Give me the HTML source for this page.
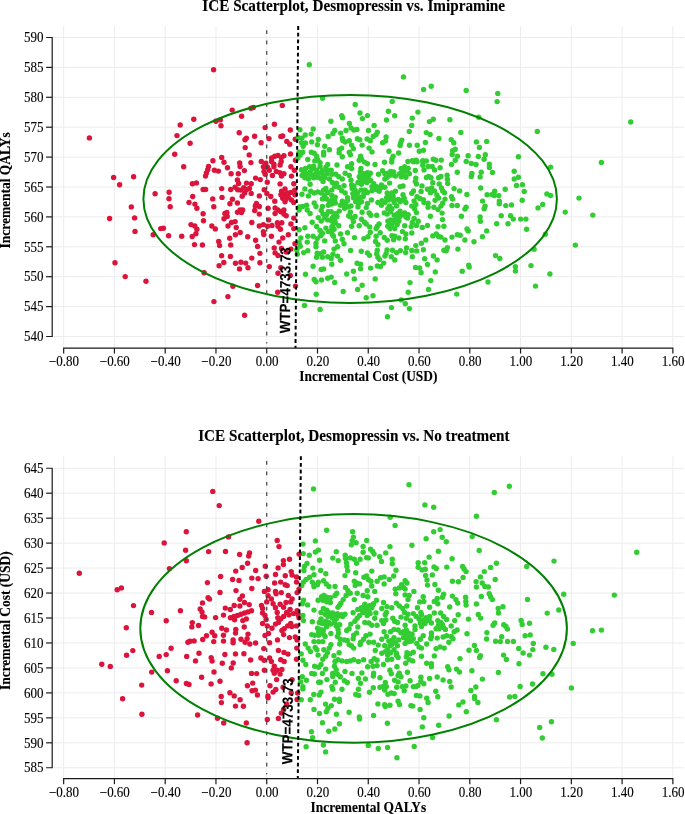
<!DOCTYPE html><html><head><meta charset="utf-8"><style>html,body{margin:0;padding:0;background:#fff}svg{display:block;will-change:transform}text{font-family:"Liberation Serif",serif;fill:#000;stroke:#000;stroke-width:0.12px}.b{font-weight:bold}.s{font-family:"Liberation Sans",sans-serif;font-weight:bold}</style></head><body>
<svg width="685" height="814" viewBox="0 0 685 814">
<rect width="685" height="814" fill="#fff"/>
<line x1="63.67" y1="26.10" x2="63.67" y2="348.05" stroke="#ececec" stroke-width="1"/>
<line x1="114.43" y1="26.10" x2="114.43" y2="348.05" stroke="#ececec" stroke-width="1"/>
<line x1="165.20" y1="26.10" x2="165.20" y2="348.05" stroke="#ececec" stroke-width="1"/>
<line x1="215.96" y1="26.10" x2="215.96" y2="348.05" stroke="#ececec" stroke-width="1"/>
<line x1="266.73" y1="26.10" x2="266.73" y2="348.05" stroke="#ececec" stroke-width="1"/>
<line x1="317.50" y1="26.10" x2="317.50" y2="348.05" stroke="#ececec" stroke-width="1"/>
<line x1="368.26" y1="26.10" x2="368.26" y2="348.05" stroke="#ececec" stroke-width="1"/>
<line x1="419.03" y1="26.10" x2="419.03" y2="348.05" stroke="#ececec" stroke-width="1"/>
<line x1="469.79" y1="26.10" x2="469.79" y2="348.05" stroke="#ececec" stroke-width="1"/>
<line x1="520.56" y1="26.10" x2="520.56" y2="348.05" stroke="#ececec" stroke-width="1"/>
<line x1="571.33" y1="26.10" x2="571.33" y2="348.05" stroke="#ececec" stroke-width="1"/>
<line x1="622.09" y1="26.10" x2="622.09" y2="348.05" stroke="#ececec" stroke-width="1"/>
<line x1="672.86" y1="26.10" x2="672.86" y2="348.05" stroke="#ececec" stroke-width="1"/>
<line x1="53" y1="37.50" x2="684" y2="37.50" stroke="#ececec" stroke-width="1"/>
<line x1="53" y1="67.40" x2="684" y2="67.40" stroke="#ececec" stroke-width="1"/>
<line x1="53" y1="97.30" x2="684" y2="97.30" stroke="#ececec" stroke-width="1"/>
<line x1="53" y1="127.20" x2="684" y2="127.20" stroke="#ececec" stroke-width="1"/>
<line x1="53" y1="157.10" x2="684" y2="157.10" stroke="#ececec" stroke-width="1"/>
<line x1="53" y1="187.00" x2="684" y2="187.00" stroke="#ececec" stroke-width="1"/>
<line x1="53" y1="216.90" x2="684" y2="216.90" stroke="#ececec" stroke-width="1"/>
<line x1="53" y1="246.80" x2="684" y2="246.80" stroke="#ececec" stroke-width="1"/>
<line x1="53" y1="276.70" x2="684" y2="276.70" stroke="#ececec" stroke-width="1"/>
<line x1="53" y1="306.60" x2="684" y2="306.60" stroke="#ececec" stroke-width="1"/>
<line x1="53" y1="336.50" x2="684" y2="336.50" stroke="#ececec" stroke-width="1"/>
<circle cx="89.4" cy="137.9" r="2.7" fill="#dc143c"/>
<circle cx="177.0" cy="135.6" r="2.7" fill="#dc143c"/>
<circle cx="174.7" cy="154.2" r="2.7" fill="#dc143c"/>
<circle cx="113.6" cy="177.5" r="2.7" fill="#dc143c"/>
<circle cx="133.6" cy="176.8" r="2.7" fill="#dc143c"/>
<circle cx="119.6" cy="184.8" r="2.7" fill="#dc143c"/>
<circle cx="155.1" cy="193.8" r="2.7" fill="#dc143c"/>
<circle cx="169.1" cy="192.2" r="2.7" fill="#dc143c"/>
<circle cx="169.0" cy="198.8" r="2.7" fill="#dc143c"/>
<circle cx="170.2" cy="206.7" r="2.7" fill="#dc143c"/>
<circle cx="131.3" cy="206.9" r="2.7" fill="#dc143c"/>
<circle cx="109.6" cy="218.5" r="2.7" fill="#dc143c"/>
<circle cx="134.6" cy="217.9" r="2.7" fill="#dc143c"/>
<circle cx="135.0" cy="231.4" r="2.7" fill="#dc143c"/>
<circle cx="160.7" cy="228.6" r="2.7" fill="#dc143c"/>
<circle cx="163.4" cy="228.3" r="2.7" fill="#dc143c"/>
<circle cx="153.2" cy="234.8" r="2.7" fill="#dc143c"/>
<circle cx="168.6" cy="235.8" r="2.7" fill="#dc143c"/>
<circle cx="115.0" cy="262.8" r="2.7" fill="#dc143c"/>
<circle cx="125.2" cy="276.6" r="2.7" fill="#dc143c"/>
<circle cx="146.0" cy="281.3" r="2.7" fill="#dc143c"/>
<circle cx="213.6" cy="69.8" r="2.7" fill="#dc143c"/>
<circle cx="232.2" cy="110.1" r="2.7" fill="#dc143c"/>
<circle cx="250.9" cy="108.3" r="2.7" fill="#dc143c"/>
<circle cx="253.4" cy="107.5" r="2.7" fill="#dc143c"/>
<circle cx="282.3" cy="105.4" r="2.7" fill="#dc143c"/>
<circle cx="193.8" cy="119.2" r="2.7" fill="#dc143c"/>
<circle cx="215.9" cy="121.3" r="2.7" fill="#dc143c"/>
<circle cx="220.3" cy="119.9" r="2.7" fill="#dc143c"/>
<circle cx="241.6" cy="116.2" r="2.7" fill="#dc143c"/>
<circle cx="180.2" cy="125.0" r="2.7" fill="#dc143c"/>
<circle cx="221.0" cy="125.7" r="2.7" fill="#dc143c"/>
<circle cx="274.4" cy="124.3" r="2.7" fill="#dc143c"/>
<circle cx="265.1" cy="127.6" r="2.7" fill="#dc143c"/>
<circle cx="239.2" cy="132.7" r="2.7" fill="#dc143c"/>
<circle cx="254.6" cy="136.2" r="2.7" fill="#dc143c"/>
<circle cx="246.4" cy="138.1" r="2.7" fill="#dc143c"/>
<circle cx="245.0" cy="139.7" r="2.7" fill="#dc143c"/>
<circle cx="269.0" cy="138.6" r="2.7" fill="#dc143c"/>
<circle cx="280.9" cy="136.4" r="2.7" fill="#dc143c"/>
<circle cx="282.6" cy="136.0" r="2.7" fill="#dc143c"/>
<circle cx="190.1" cy="143.2" r="2.7" fill="#dc143c"/>
<circle cx="261.1" cy="142.8" r="2.7" fill="#dc143c"/>
<circle cx="286.8" cy="141.4" r="2.7" fill="#dc143c"/>
<circle cx="245.2" cy="147.6" r="2.7" fill="#dc143c"/>
<circle cx="249.2" cy="154.9" r="2.7" fill="#dc143c"/>
<circle cx="221.7" cy="157.4" r="2.7" fill="#dc143c"/>
<circle cx="212.9" cy="160.7" r="2.7" fill="#dc143c"/>
<circle cx="224.0" cy="162.3" r="2.7" fill="#dc143c"/>
<circle cx="239.7" cy="163.0" r="2.7" fill="#dc143c"/>
<circle cx="250.9" cy="162.6" r="2.7" fill="#dc143c"/>
<circle cx="261.3" cy="161.4" r="2.7" fill="#dc143c"/>
<circle cx="183.7" cy="166.8" r="2.7" fill="#dc143c"/>
<circle cx="208.5" cy="166.5" r="2.7" fill="#dc143c"/>
<circle cx="227.5" cy="167.7" r="2.7" fill="#dc143c"/>
<circle cx="240.1" cy="166.5" r="2.7" fill="#dc143c"/>
<circle cx="207.7" cy="169.7" r="2.7" fill="#dc143c"/>
<circle cx="206.4" cy="172.9" r="2.7" fill="#dc143c"/>
<circle cx="205.5" cy="176.1" r="2.7" fill="#dc143c"/>
<circle cx="214.4" cy="170.3" r="2.7" fill="#dc143c"/>
<circle cx="218.4" cy="171.1" r="2.7" fill="#dc143c"/>
<circle cx="231.1" cy="173.8" r="2.7" fill="#dc143c"/>
<circle cx="238.3" cy="173.8" r="2.7" fill="#dc143c"/>
<circle cx="244.4" cy="170.6" r="2.7" fill="#dc143c"/>
<circle cx="237.4" cy="179.9" r="2.7" fill="#dc143c"/>
<circle cx="238.6" cy="183.5" r="2.7" fill="#dc143c"/>
<circle cx="246.5" cy="183.1" r="2.7" fill="#dc143c"/>
<circle cx="192.4" cy="183.7" r="2.7" fill="#dc143c"/>
<circle cx="196.4" cy="182.9" r="2.7" fill="#dc143c"/>
<circle cx="203.1" cy="189.5" r="2.7" fill="#dc143c"/>
<circle cx="205.6" cy="189.5" r="2.7" fill="#dc143c"/>
<circle cx="221.7" cy="188.6" r="2.7" fill="#dc143c"/>
<circle cx="230.7" cy="189.5" r="2.7" fill="#dc143c"/>
<circle cx="235.1" cy="187.2" r="2.7" fill="#dc143c"/>
<circle cx="237.7" cy="189.8" r="2.7" fill="#dc143c"/>
<circle cx="240.7" cy="190.1" r="2.7" fill="#dc143c"/>
<circle cx="243.8" cy="187.8" r="2.7" fill="#dc143c"/>
<circle cx="246.5" cy="189.8" r="2.7" fill="#dc143c"/>
<circle cx="244.7" cy="193.0" r="2.7" fill="#dc143c"/>
<circle cx="242.2" cy="196.3" r="2.7" fill="#dc143c"/>
<circle cx="192.7" cy="196.5" r="2.7" fill="#dc143c"/>
<circle cx="189.0" cy="202.4" r="2.7" fill="#dc143c"/>
<circle cx="194.9" cy="204.1" r="2.7" fill="#dc143c"/>
<circle cx="196.9" cy="208.2" r="2.7" fill="#dc143c"/>
<circle cx="212.7" cy="198.9" r="2.7" fill="#dc143c"/>
<circle cx="213.8" cy="206.7" r="2.7" fill="#dc143c"/>
<circle cx="222.0" cy="197.4" r="2.7" fill="#dc143c"/>
<circle cx="232.4" cy="199.2" r="2.7" fill="#dc143c"/>
<circle cx="229.9" cy="203.8" r="2.7" fill="#dc143c"/>
<circle cx="237.4" cy="203.0" r="2.7" fill="#dc143c"/>
<circle cx="203.1" cy="213.8" r="2.7" fill="#dc143c"/>
<circle cx="203.5" cy="220.7" r="2.7" fill="#dc143c"/>
<circle cx="226.9" cy="212.5" r="2.7" fill="#dc143c"/>
<circle cx="224.9" cy="213.5" r="2.7" fill="#dc143c"/>
<circle cx="227.2" cy="216.4" r="2.7" fill="#dc143c"/>
<circle cx="224.0" cy="218.7" r="2.7" fill="#dc143c"/>
<circle cx="237.5" cy="212.3" r="2.7" fill="#dc143c"/>
<circle cx="240.1" cy="210.0" r="2.7" fill="#dc143c"/>
<circle cx="242.6" cy="210.0" r="2.7" fill="#dc143c"/>
<circle cx="241.5" cy="212.6" r="2.7" fill="#dc143c"/>
<circle cx="191.0" cy="224.6" r="2.7" fill="#dc143c"/>
<circle cx="194.8" cy="226.0" r="2.7" fill="#dc143c"/>
<circle cx="196.9" cy="229.2" r="2.7" fill="#dc143c"/>
<circle cx="195.9" cy="233.7" r="2.7" fill="#dc143c"/>
<circle cx="192.2" cy="236.5" r="2.7" fill="#dc143c"/>
<circle cx="181.7" cy="236.2" r="2.7" fill="#dc143c"/>
<circle cx="211.8" cy="226.0" r="2.7" fill="#dc143c"/>
<circle cx="215.3" cy="228.9" r="2.7" fill="#dc143c"/>
<circle cx="231.5" cy="222.5" r="2.7" fill="#dc143c"/>
<circle cx="235.1" cy="221.6" r="2.7" fill="#dc143c"/>
<circle cx="228.0" cy="226.0" r="2.7" fill="#dc143c"/>
<circle cx="236.2" cy="227.5" r="2.7" fill="#dc143c"/>
<circle cx="240.2" cy="232.5" r="2.7" fill="#dc143c"/>
<circle cx="235.4" cy="234.7" r="2.7" fill="#dc143c"/>
<circle cx="229.7" cy="238.2" r="2.7" fill="#dc143c"/>
<circle cx="247.7" cy="236.8" r="2.7" fill="#dc143c"/>
<circle cx="218.7" cy="241.5" r="2.7" fill="#dc143c"/>
<circle cx="221.6" cy="255.7" r="2.7" fill="#dc143c"/>
<circle cx="230.4" cy="256.4" r="2.7" fill="#dc143c"/>
<circle cx="223.8" cy="262.5" r="2.7" fill="#dc143c"/>
<circle cx="219.1" cy="265.8" r="2.7" fill="#dc143c"/>
<circle cx="235.5" cy="263.3" r="2.7" fill="#dc143c"/>
<circle cx="240.9" cy="262.3" r="2.7" fill="#dc143c"/>
<circle cx="245.7" cy="263.1" r="2.7" fill="#dc143c"/>
<circle cx="239.5" cy="268.9" r="2.7" fill="#dc143c"/>
<circle cx="248.0" cy="267.8" r="2.7" fill="#dc143c"/>
<circle cx="204.1" cy="272.8" r="2.7" fill="#dc143c"/>
<circle cx="232.9" cy="286.3" r="2.7" fill="#dc143c"/>
<circle cx="227.9" cy="296.6" r="2.7" fill="#dc143c"/>
<circle cx="213.9" cy="301.6" r="2.7" fill="#dc143c"/>
<circle cx="244.6" cy="315.3" r="2.7" fill="#dc143c"/>
<circle cx="290.3" cy="130.0" r="2.7" fill="#dc143c"/>
<circle cx="295.3" cy="139.3" r="2.7" fill="#dc143c"/>
<circle cx="289.7" cy="144.3" r="2.7" fill="#dc143c"/>
<circle cx="290.5" cy="153.9" r="2.7" fill="#dc143c"/>
<circle cx="295.5" cy="160.3" r="2.7" fill="#dc143c"/>
<circle cx="271.6" cy="158.0" r="2.7" fill="#dc143c"/>
<circle cx="274.8" cy="156.2" r="2.7" fill="#dc143c"/>
<circle cx="278.0" cy="155.4" r="2.7" fill="#dc143c"/>
<circle cx="281.3" cy="157.6" r="2.7" fill="#dc143c"/>
<circle cx="283.9" cy="155.8" r="2.7" fill="#dc143c"/>
<circle cx="271.6" cy="161.5" r="2.7" fill="#dc143c"/>
<circle cx="281.2" cy="161.5" r="2.7" fill="#dc143c"/>
<circle cx="265.8" cy="163.2" r="2.7" fill="#dc143c"/>
<circle cx="322.6" cy="98.2" r="2.7" fill="#32cd32"/>
<circle cx="299.9" cy="129.7" r="2.7" fill="#32cd32"/>
<circle cx="313.2" cy="129.0" r="2.7" fill="#32cd32"/>
<circle cx="305.2" cy="135.0" r="2.7" fill="#32cd32"/>
<circle cx="311.2" cy="134.1" r="2.7" fill="#32cd32"/>
<circle cx="302.0" cy="138.1" r="2.7" fill="#32cd32"/>
<circle cx="298.5" cy="137.8" r="2.7" fill="#32cd32"/>
<circle cx="328.2" cy="136.4" r="2.7" fill="#32cd32"/>
<circle cx="318.3" cy="139.5" r="2.7" fill="#32cd32"/>
<circle cx="311.7" cy="141.9" r="2.7" fill="#32cd32"/>
<circle cx="317.4" cy="144.8" r="2.7" fill="#32cd32"/>
<circle cx="301.4" cy="142.8" r="2.7" fill="#32cd32"/>
<circle cx="305.5" cy="143.0" r="2.7" fill="#32cd32"/>
<circle cx="303.1" cy="146.3" r="2.7" fill="#32cd32"/>
<circle cx="324.7" cy="146.3" r="2.7" fill="#32cd32"/>
<circle cx="299.1" cy="152.2" r="2.7" fill="#32cd32"/>
<circle cx="302.6" cy="152.2" r="2.7" fill="#32cd32"/>
<circle cx="300.2" cy="155.1" r="2.7" fill="#32cd32"/>
<circle cx="297.9" cy="158.0" r="2.7" fill="#32cd32"/>
<circle cx="311.3" cy="152.2" r="2.7" fill="#32cd32"/>
<circle cx="314.2" cy="153.3" r="2.7" fill="#32cd32"/>
<circle cx="316.6" cy="156.2" r="2.7" fill="#32cd32"/>
<circle cx="317.7" cy="159.7" r="2.7" fill="#32cd32"/>
<circle cx="314.8" cy="160.9" r="2.7" fill="#32cd32"/>
<circle cx="323.6" cy="152.2" r="2.7" fill="#32cd32"/>
<circle cx="323.6" cy="155.1" r="2.7" fill="#32cd32"/>
<circle cx="307.8" cy="159.5" r="2.7" fill="#32cd32"/>
<circle cx="320.1" cy="162.7" r="2.7" fill="#32cd32"/>
<circle cx="263.4" cy="166.8" r="2.7" fill="#dc143c"/>
<circle cx="267.5" cy="167.3" r="2.7" fill="#dc143c"/>
<circle cx="273.9" cy="166.8" r="2.7" fill="#dc143c"/>
<circle cx="290.9" cy="166.8" r="2.7" fill="#dc143c"/>
<circle cx="264.0" cy="171.4" r="2.7" fill="#dc143c"/>
<circle cx="269.3" cy="170.3" r="2.7" fill="#dc143c"/>
<circle cx="276.3" cy="171.4" r="2.7" fill="#dc143c"/>
<circle cx="279.8" cy="172.6" r="2.7" fill="#dc143c"/>
<circle cx="283.9" cy="173.8" r="2.7" fill="#dc143c"/>
<circle cx="272.4" cy="175.5" r="2.7" fill="#dc143c"/>
<circle cx="281.5" cy="176.1" r="2.7" fill="#dc143c"/>
<circle cx="291.5" cy="176.1" r="2.7" fill="#dc143c"/>
<circle cx="294.4" cy="170.3" r="2.7" fill="#dc143c"/>
<circle cx="265.2" cy="174.3" r="2.7" fill="#dc143c"/>
<circle cx="255.6" cy="178.1" r="2.7" fill="#dc143c"/>
<circle cx="260.3" cy="179.6" r="2.7" fill="#dc143c"/>
<circle cx="267.3" cy="182.3" r="2.7" fill="#dc143c"/>
<circle cx="280.1" cy="183.9" r="2.7" fill="#dc143c"/>
<circle cx="293.8" cy="183.7" r="2.7" fill="#dc143c"/>
<circle cx="264.2" cy="189.8" r="2.7" fill="#dc143c"/>
<circle cx="266.9" cy="193.4" r="2.7" fill="#dc143c"/>
<circle cx="259.3" cy="195.9" r="2.7" fill="#dc143c"/>
<circle cx="270.8" cy="196.5" r="2.7" fill="#dc143c"/>
<circle cx="274.8" cy="201.2" r="2.7" fill="#dc143c"/>
<circle cx="285.0" cy="188.9" r="2.7" fill="#dc143c"/>
<circle cx="281.5" cy="191.3" r="2.7" fill="#dc143c"/>
<circle cx="280.9" cy="194.8" r="2.7" fill="#dc143c"/>
<circle cx="284.5" cy="194.2" r="2.7" fill="#dc143c"/>
<circle cx="287.4" cy="193.0" r="2.7" fill="#dc143c"/>
<circle cx="290.9" cy="192.4" r="2.7" fill="#dc143c"/>
<circle cx="282.7" cy="198.3" r="2.7" fill="#dc143c"/>
<circle cx="286.2" cy="198.9" r="2.7" fill="#dc143c"/>
<circle cx="288.5" cy="197.1" r="2.7" fill="#dc143c"/>
<circle cx="285.0" cy="201.8" r="2.7" fill="#dc143c"/>
<circle cx="291.5" cy="200.0" r="2.7" fill="#dc143c"/>
<circle cx="293.8" cy="202.4" r="2.7" fill="#dc143c"/>
<circle cx="294.7" cy="190.1" r="2.7" fill="#dc143c"/>
<circle cx="295.0" cy="194.8" r="2.7" fill="#dc143c"/>
<circle cx="256.4" cy="203.5" r="2.7" fill="#dc143c"/>
<circle cx="259.3" cy="206.5" r="2.7" fill="#dc143c"/>
<circle cx="255.3" cy="205.9" r="2.7" fill="#dc143c"/>
<circle cx="254.7" cy="210.5" r="2.7" fill="#dc143c"/>
<circle cx="259.3" cy="214.1" r="2.7" fill="#dc143c"/>
<circle cx="268.1" cy="208.2" r="2.7" fill="#dc143c"/>
<circle cx="275.1" cy="208.0" r="2.7" fill="#dc143c"/>
<circle cx="278.0" cy="210.0" r="2.7" fill="#dc143c"/>
<circle cx="280.9" cy="211.7" r="2.7" fill="#dc143c"/>
<circle cx="283.9" cy="210.0" r="2.7" fill="#dc143c"/>
<circle cx="275.1" cy="213.5" r="2.7" fill="#dc143c"/>
<circle cx="283.9" cy="214.1" r="2.7" fill="#dc143c"/>
<circle cx="286.2" cy="215.8" r="2.7" fill="#dc143c"/>
<circle cx="293.8" cy="218.1" r="2.7" fill="#dc143c"/>
<circle cx="290.9" cy="224.0" r="2.7" fill="#dc143c"/>
<circle cx="293.8" cy="228.6" r="2.7" fill="#dc143c"/>
<circle cx="268.7" cy="219.9" r="2.7" fill="#dc143c"/>
<circle cx="251.8" cy="222.5" r="2.7" fill="#dc143c"/>
<circle cx="259.3" cy="226.0" r="2.7" fill="#dc143c"/>
<circle cx="263.4" cy="224.6" r="2.7" fill="#dc143c"/>
<circle cx="267.5" cy="226.3" r="2.7" fill="#dc143c"/>
<circle cx="272.0" cy="225.5" r="2.7" fill="#dc143c"/>
<circle cx="277.4" cy="222.8" r="2.7" fill="#dc143c"/>
<circle cx="281.8" cy="222.8" r="2.7" fill="#dc143c"/>
<circle cx="278.0" cy="226.3" r="2.7" fill="#dc143c"/>
<circle cx="280.4" cy="229.2" r="2.7" fill="#dc143c"/>
<circle cx="263.4" cy="231.6" r="2.7" fill="#dc143c"/>
<circle cx="263.8" cy="234.5" r="2.7" fill="#dc143c"/>
<circle cx="271.4" cy="236.2" r="2.7" fill="#dc143c"/>
<circle cx="288.3" cy="234.7" r="2.7" fill="#dc143c"/>
<circle cx="282.7" cy="238.0" r="2.7" fill="#dc143c"/>
<circle cx="255.6" cy="240.3" r="2.7" fill="#dc143c"/>
<circle cx="279.0" cy="242.1" r="2.7" fill="#dc143c"/>
<circle cx="301.4" cy="169.7" r="2.7" fill="#32cd32"/>
<circle cx="309.6" cy="166.8" r="2.7" fill="#32cd32"/>
<circle cx="320.1" cy="166.8" r="2.7" fill="#32cd32"/>
<circle cx="325.9" cy="167.3" r="2.7" fill="#32cd32"/>
<circle cx="302.0" cy="175.5" r="2.7" fill="#32cd32"/>
<circle cx="306.1" cy="173.8" r="2.7" fill="#32cd32"/>
<circle cx="310.1" cy="172.0" r="2.7" fill="#32cd32"/>
<circle cx="304.9" cy="177.8" r="2.7" fill="#32cd32"/>
<circle cx="308.4" cy="179.0" r="2.7" fill="#32cd32"/>
<circle cx="315.4" cy="174.3" r="2.7" fill="#32cd32"/>
<circle cx="318.9" cy="173.2" r="2.7" fill="#32cd32"/>
<circle cx="323.0" cy="174.9" r="2.7" fill="#32cd32"/>
<circle cx="327.1" cy="173.8" r="2.7" fill="#32cd32"/>
<circle cx="320.7" cy="178.4" r="2.7" fill="#32cd32"/>
<circle cx="323.0" cy="181.4" r="2.7" fill="#32cd32"/>
<circle cx="313.6" cy="177.8" r="2.7" fill="#32cd32"/>
<circle cx="310.1" cy="184.3" r="2.7" fill="#32cd32"/>
<circle cx="304.9" cy="188.9" r="2.7" fill="#32cd32"/>
<circle cx="302.0" cy="194.2" r="2.7" fill="#32cd32"/>
<circle cx="310.7" cy="191.3" r="2.7" fill="#32cd32"/>
<circle cx="314.2" cy="193.0" r="2.7" fill="#32cd32"/>
<circle cx="308.4" cy="195.9" r="2.7" fill="#32cd32"/>
<circle cx="317.7" cy="191.9" r="2.7" fill="#32cd32"/>
<circle cx="323.6" cy="190.1" r="2.7" fill="#32cd32"/>
<circle cx="327.7" cy="192.4" r="2.7" fill="#32cd32"/>
<circle cx="324.7" cy="195.4" r="2.7" fill="#32cd32"/>
<circle cx="326.5" cy="198.9" r="2.7" fill="#32cd32"/>
<circle cx="299.1" cy="210.0" r="2.7" fill="#32cd32"/>
<circle cx="299.6" cy="207.0" r="2.7" fill="#32cd32"/>
<circle cx="302.6" cy="206.5" r="2.7" fill="#32cd32"/>
<circle cx="306.6" cy="205.3" r="2.7" fill="#32cd32"/>
<circle cx="307.2" cy="210.0" r="2.7" fill="#32cd32"/>
<circle cx="310.1" cy="213.5" r="2.7" fill="#32cd32"/>
<circle cx="314.2" cy="203.0" r="2.7" fill="#32cd32"/>
<circle cx="316.0" cy="206.5" r="2.7" fill="#32cd32"/>
<circle cx="322.4" cy="206.5" r="2.7" fill="#32cd32"/>
<circle cx="321.2" cy="210.5" r="2.7" fill="#32cd32"/>
<circle cx="328.2" cy="205.3" r="2.7" fill="#32cd32"/>
<circle cx="326.5" cy="214.6" r="2.7" fill="#32cd32"/>
<circle cx="318.3" cy="217.6" r="2.7" fill="#32cd32"/>
<circle cx="321.2" cy="221.1" r="2.7" fill="#32cd32"/>
<circle cx="324.7" cy="218.1" r="2.7" fill="#32cd32"/>
<circle cx="312.2" cy="222.2" r="2.7" fill="#32cd32"/>
<circle cx="316.6" cy="226.5" r="2.7" fill="#32cd32"/>
<circle cx="304.9" cy="227.7" r="2.7" fill="#32cd32"/>
<circle cx="299.1" cy="229.8" r="2.7" fill="#32cd32"/>
<circle cx="325.9" cy="228.1" r="2.7" fill="#32cd32"/>
<circle cx="322.4" cy="233.3" r="2.7" fill="#32cd32"/>
<circle cx="328.2" cy="231.6" r="2.7" fill="#32cd32"/>
<circle cx="300.8" cy="238.0" r="2.7" fill="#32cd32"/>
<circle cx="307.8" cy="236.2" r="2.7" fill="#32cd32"/>
<circle cx="313.1" cy="236.2" r="2.7" fill="#32cd32"/>
<circle cx="317.2" cy="238.6" r="2.7" fill="#32cd32"/>
<circle cx="320.7" cy="235.7" r="2.7" fill="#32cd32"/>
<circle cx="324.7" cy="240.9" r="2.7" fill="#32cd32"/>
<circle cx="299.1" cy="242.7" r="2.7" fill="#32cd32"/>
<circle cx="307.2" cy="242.1" r="2.7" fill="#32cd32"/>
<circle cx="316.0" cy="243.2" r="2.7" fill="#32cd32"/>
<circle cx="259.9" cy="253.4" r="2.7" fill="#dc143c"/>
<circle cx="251.8" cy="258.1" r="2.7" fill="#dc143c"/>
<circle cx="259.9" cy="262.8" r="2.7" fill="#dc143c"/>
<circle cx="274.2" cy="247.9" r="2.7" fill="#dc143c"/>
<circle cx="281.5" cy="248.5" r="2.7" fill="#dc143c"/>
<circle cx="275.1" cy="252.9" r="2.7" fill="#dc143c"/>
<circle cx="278.0" cy="255.5" r="2.7" fill="#dc143c"/>
<circle cx="290.9" cy="249.1" r="2.7" fill="#dc143c"/>
<circle cx="286.2" cy="252.0" r="2.7" fill="#dc143c"/>
<circle cx="269.3" cy="266.6" r="2.7" fill="#dc143c"/>
<circle cx="280.9" cy="267.8" r="2.7" fill="#dc143c"/>
<circle cx="278.0" cy="273.3" r="2.7" fill="#dc143c"/>
<circle cx="290.3" cy="275.4" r="2.7" fill="#dc143c"/>
<circle cx="257.6" cy="285.5" r="2.7" fill="#dc143c"/>
<circle cx="277.7" cy="292.3" r="2.7" fill="#dc143c"/>
<circle cx="295.5" cy="286.1" r="2.7" fill="#dc143c"/>
<circle cx="296.7" cy="249.7" r="2.7" fill="#32cd32"/>
<circle cx="297.3" cy="254.3" r="2.7" fill="#32cd32"/>
<circle cx="303.7" cy="252.6" r="2.7" fill="#32cd32"/>
<circle cx="307.8" cy="250.8" r="2.7" fill="#32cd32"/>
<circle cx="316.0" cy="246.8" r="2.7" fill="#32cd32"/>
<circle cx="317.2" cy="253.2" r="2.7" fill="#32cd32"/>
<circle cx="320.1" cy="253.8" r="2.7" fill="#32cd32"/>
<circle cx="323.6" cy="252.0" r="2.7" fill="#32cd32"/>
<circle cx="316.6" cy="257.3" r="2.7" fill="#32cd32"/>
<circle cx="322.4" cy="257.3" r="2.7" fill="#32cd32"/>
<circle cx="327.7" cy="256.7" r="2.7" fill="#32cd32"/>
<circle cx="313.1" cy="266.3" r="2.7" fill="#32cd32"/>
<circle cx="321.2" cy="269.5" r="2.7" fill="#32cd32"/>
<circle cx="323.6" cy="268.9" r="2.7" fill="#32cd32"/>
<circle cx="305.5" cy="274.2" r="2.7" fill="#32cd32"/>
<circle cx="314.2" cy="279.5" r="2.7" fill="#32cd32"/>
<circle cx="316.0" cy="281.8" r="2.7" fill="#32cd32"/>
<circle cx="321.5" cy="280.0" r="2.7" fill="#32cd32"/>
<circle cx="327.7" cy="278.3" r="2.7" fill="#32cd32"/>
<circle cx="316.2" cy="294.3" r="2.7" fill="#32cd32"/>
<circle cx="304.5" cy="305.4" r="2.7" fill="#32cd32"/>
<circle cx="320.1" cy="309.5" r="2.7" fill="#32cd32"/>
<circle cx="392.2" cy="101.4" r="2.7" fill="#32cd32"/>
<circle cx="355.2" cy="104.5" r="2.7" fill="#32cd32"/>
<circle cx="388.4" cy="111.3" r="2.7" fill="#32cd32"/>
<circle cx="394.7" cy="115.7" r="2.7" fill="#32cd32"/>
<circle cx="386.5" cy="120.0" r="2.7" fill="#32cd32"/>
<circle cx="360.0" cy="113.0" r="2.7" fill="#32cd32"/>
<circle cx="367.4" cy="115.6" r="2.7" fill="#32cd32"/>
<circle cx="362.4" cy="118.6" r="2.7" fill="#32cd32"/>
<circle cx="341.7" cy="115.6" r="2.7" fill="#32cd32"/>
<circle cx="342.6" cy="117.7" r="2.7" fill="#32cd32"/>
<circle cx="349.4" cy="123.5" r="2.7" fill="#32cd32"/>
<circle cx="351.0" cy="128.0" r="2.7" fill="#32cd32"/>
<circle cx="353.9" cy="130.0" r="2.7" fill="#32cd32"/>
<circle cx="356.9" cy="129.4" r="2.7" fill="#32cd32"/>
<circle cx="374.1" cy="125.5" r="2.7" fill="#32cd32"/>
<circle cx="368.5" cy="130.5" r="2.7" fill="#32cd32"/>
<circle cx="377.3" cy="132.1" r="2.7" fill="#32cd32"/>
<circle cx="376.1" cy="134.6" r="2.7" fill="#32cd32"/>
<circle cx="373.2" cy="136.4" r="2.7" fill="#32cd32"/>
<circle cx="346.0" cy="130.5" r="2.7" fill="#32cd32"/>
<circle cx="340.7" cy="133.1" r="2.7" fill="#32cd32"/>
<circle cx="334.7" cy="130.5" r="2.7" fill="#32cd32"/>
<circle cx="332.9" cy="133.5" r="2.7" fill="#32cd32"/>
<circle cx="342.3" cy="138.1" r="2.7" fill="#32cd32"/>
<circle cx="342.8" cy="140.5" r="2.7" fill="#32cd32"/>
<circle cx="345.2" cy="142.0" r="2.7" fill="#32cd32"/>
<circle cx="349.3" cy="140.7" r="2.7" fill="#32cd32"/>
<circle cx="357.4" cy="138.7" r="2.7" fill="#32cd32"/>
<circle cx="359.8" cy="139.7" r="2.7" fill="#32cd32"/>
<circle cx="367.1" cy="139.0" r="2.7" fill="#32cd32"/>
<circle cx="370.3" cy="140.8" r="2.7" fill="#32cd32"/>
<circle cx="386.1" cy="137.0" r="2.7" fill="#32cd32"/>
<circle cx="385.5" cy="141.1" r="2.7" fill="#32cd32"/>
<circle cx="382.6" cy="142.8" r="2.7" fill="#32cd32"/>
<circle cx="401.8" cy="140.1" r="2.7" fill="#32cd32"/>
<circle cx="400.7" cy="142.8" r="2.7" fill="#32cd32"/>
<circle cx="400.1" cy="145.5" r="2.7" fill="#32cd32"/>
<circle cx="362.1" cy="145.1" r="2.7" fill="#32cd32"/>
<circle cx="351.6" cy="145.1" r="2.7" fill="#32cd32"/>
<circle cx="353.4" cy="148.6" r="2.7" fill="#32cd32"/>
<circle cx="369.1" cy="148.1" r="2.7" fill="#32cd32"/>
<circle cx="372.0" cy="151.9" r="2.7" fill="#32cd32"/>
<circle cx="341.7" cy="148.1" r="2.7" fill="#32cd32"/>
<circle cx="339.3" cy="149.6" r="2.7" fill="#32cd32"/>
<circle cx="339.1" cy="152.7" r="2.7" fill="#32cd32"/>
<circle cx="342.3" cy="156.8" r="2.7" fill="#32cd32"/>
<circle cx="349.3" cy="152.2" r="2.7" fill="#32cd32"/>
<circle cx="350.4" cy="154.7" r="2.7" fill="#32cd32"/>
<circle cx="389.0" cy="151.3" r="2.7" fill="#32cd32"/>
<circle cx="398.6" cy="153.0" r="2.7" fill="#32cd32"/>
<circle cx="393.1" cy="156.2" r="2.7" fill="#32cd32"/>
<circle cx="391.9" cy="159.2" r="2.7" fill="#32cd32"/>
<circle cx="391.7" cy="162.1" r="2.7" fill="#32cd32"/>
<circle cx="360.6" cy="156.2" r="2.7" fill="#32cd32"/>
<circle cx="361.5" cy="159.2" r="2.7" fill="#32cd32"/>
<circle cx="359.2" cy="160.3" r="2.7" fill="#32cd32"/>
<circle cx="364.5" cy="162.1" r="2.7" fill="#32cd32"/>
<circle cx="384.5" cy="162.3" r="2.7" fill="#32cd32"/>
<circle cx="347.5" cy="166.8" r="2.7" fill="#32cd32"/>
<circle cx="351.6" cy="168.5" r="2.7" fill="#32cd32"/>
<circle cx="360.9" cy="168.5" r="2.7" fill="#32cd32"/>
<circle cx="404.7" cy="166.8" r="2.7" fill="#32cd32"/>
<circle cx="401.2" cy="168.5" r="2.7" fill="#32cd32"/>
<circle cx="335.8" cy="174.3" r="2.7" fill="#32cd32"/>
<circle cx="338.8" cy="176.7" r="2.7" fill="#32cd32"/>
<circle cx="342.3" cy="179.0" r="2.7" fill="#32cd32"/>
<circle cx="345.2" cy="173.2" r="2.7" fill="#32cd32"/>
<circle cx="349.3" cy="175.5" r="2.7" fill="#32cd32"/>
<circle cx="351.0" cy="180.2" r="2.7" fill="#32cd32"/>
<circle cx="360.4" cy="172.0" r="2.7" fill="#32cd32"/>
<circle cx="363.9" cy="173.8" r="2.7" fill="#32cd32"/>
<circle cx="367.4" cy="172.6" r="2.7" fill="#32cd32"/>
<circle cx="370.3" cy="173.2" r="2.7" fill="#32cd32"/>
<circle cx="359.2" cy="176.7" r="2.7" fill="#32cd32"/>
<circle cx="378.5" cy="174.3" r="2.7" fill="#32cd32"/>
<circle cx="382.6" cy="170.8" r="2.7" fill="#32cd32"/>
<circle cx="384.9" cy="173.8" r="2.7" fill="#32cd32"/>
<circle cx="390.7" cy="171.4" r="2.7" fill="#32cd32"/>
<circle cx="393.6" cy="172.0" r="2.7" fill="#32cd32"/>
<circle cx="388.4" cy="176.1" r="2.7" fill="#32cd32"/>
<circle cx="384.9" cy="179.0" r="2.7" fill="#32cd32"/>
<circle cx="395.4" cy="176.1" r="2.7" fill="#32cd32"/>
<circle cx="401.2" cy="176.7" r="2.7" fill="#32cd32"/>
<circle cx="405.9" cy="177.3" r="2.7" fill="#32cd32"/>
<circle cx="332.3" cy="182.5" r="2.7" fill="#32cd32"/>
<circle cx="336.4" cy="183.1" r="2.7" fill="#32cd32"/>
<circle cx="338.8" cy="187.2" r="2.7" fill="#32cd32"/>
<circle cx="344.0" cy="185.8" r="2.7" fill="#32cd32"/>
<circle cx="358.0" cy="182.5" r="2.7" fill="#32cd32"/>
<circle cx="361.5" cy="184.3" r="2.7" fill="#32cd32"/>
<circle cx="364.5" cy="181.4" r="2.7" fill="#32cd32"/>
<circle cx="368.0" cy="177.3" r="2.7" fill="#32cd32"/>
<circle cx="370.9" cy="180.8" r="2.7" fill="#32cd32"/>
<circle cx="373.8" cy="183.7" r="2.7" fill="#32cd32"/>
<circle cx="376.7" cy="186.6" r="2.7" fill="#32cd32"/>
<circle cx="381.4" cy="184.9" r="2.7" fill="#32cd32"/>
<circle cx="384.9" cy="187.2" r="2.7" fill="#32cd32"/>
<circle cx="389.6" cy="183.1" r="2.7" fill="#32cd32"/>
<circle cx="400.1" cy="186.6" r="2.7" fill="#32cd32"/>
<circle cx="403.0" cy="186.0" r="2.7" fill="#32cd32"/>
<circle cx="341.7" cy="190.7" r="2.7" fill="#32cd32"/>
<circle cx="345.2" cy="193.0" r="2.7" fill="#32cd32"/>
<circle cx="352.2" cy="188.4" r="2.7" fill="#32cd32"/>
<circle cx="355.1" cy="190.1" r="2.7" fill="#32cd32"/>
<circle cx="352.8" cy="193.6" r="2.7" fill="#32cd32"/>
<circle cx="357.4" cy="193.0" r="2.7" fill="#32cd32"/>
<circle cx="365.0" cy="190.1" r="2.7" fill="#32cd32"/>
<circle cx="367.4" cy="192.4" r="2.7" fill="#32cd32"/>
<circle cx="372.0" cy="190.7" r="2.7" fill="#32cd32"/>
<circle cx="379.1" cy="191.3" r="2.7" fill="#32cd32"/>
<circle cx="387.2" cy="193.0" r="2.7" fill="#32cd32"/>
<circle cx="391.9" cy="193.0" r="2.7" fill="#32cd32"/>
<circle cx="395.4" cy="191.3" r="2.7" fill="#32cd32"/>
<circle cx="403.0" cy="194.8" r="2.7" fill="#32cd32"/>
<circle cx="331.8" cy="195.4" r="2.7" fill="#32cd32"/>
<circle cx="335.3" cy="197.1" r="2.7" fill="#32cd32"/>
<circle cx="332.3" cy="200.0" r="2.7" fill="#32cd32"/>
<circle cx="335.3" cy="203.0" r="2.7" fill="#32cd32"/>
<circle cx="347.5" cy="197.7" r="2.7" fill="#32cd32"/>
<circle cx="356.9" cy="198.9" r="2.7" fill="#32cd32"/>
<circle cx="359.2" cy="200.0" r="2.7" fill="#32cd32"/>
<circle cx="363.3" cy="196.5" r="2.7" fill="#32cd32"/>
<circle cx="371.5" cy="200.0" r="2.7" fill="#32cd32"/>
<circle cx="377.9" cy="202.4" r="2.7" fill="#32cd32"/>
<circle cx="382.0" cy="200.6" r="2.7" fill="#32cd32"/>
<circle cx="381.4" cy="205.3" r="2.7" fill="#32cd32"/>
<circle cx="384.9" cy="202.4" r="2.7" fill="#32cd32"/>
<circle cx="390.7" cy="198.9" r="2.7" fill="#32cd32"/>
<circle cx="398.3" cy="199.5" r="2.7" fill="#32cd32"/>
<circle cx="402.4" cy="200.0" r="2.7" fill="#32cd32"/>
<circle cx="405.9" cy="202.4" r="2.7" fill="#32cd32"/>
<circle cx="394.2" cy="202.4" r="2.7" fill="#32cd32"/>
<circle cx="340.5" cy="205.3" r="2.7" fill="#32cd32"/>
<circle cx="344.0" cy="202.4" r="2.7" fill="#32cd32"/>
<circle cx="345.8" cy="205.3" r="2.7" fill="#32cd32"/>
<circle cx="351.0" cy="205.9" r="2.7" fill="#32cd32"/>
<circle cx="344.6" cy="208.2" r="2.7" fill="#32cd32"/>
<circle cx="358.0" cy="207.0" r="2.7" fill="#32cd32"/>
<circle cx="355.7" cy="201.8" r="2.7" fill="#32cd32"/>
<circle cx="367.4" cy="203.5" r="2.7" fill="#32cd32"/>
<circle cx="366.2" cy="207.6" r="2.7" fill="#32cd32"/>
<circle cx="389.6" cy="205.9" r="2.7" fill="#32cd32"/>
<circle cx="387.8" cy="208.8" r="2.7" fill="#32cd32"/>
<circle cx="396.6" cy="205.9" r="2.7" fill="#32cd32"/>
<circle cx="400.1" cy="211.1" r="2.7" fill="#32cd32"/>
<circle cx="404.7" cy="212.9" r="2.7" fill="#32cd32"/>
<circle cx="408.2" cy="214.6" r="2.7" fill="#32cd32"/>
<circle cx="339.3" cy="211.1" r="2.7" fill="#32cd32"/>
<circle cx="333.5" cy="216.4" r="2.7" fill="#32cd32"/>
<circle cx="337.0" cy="216.4" r="2.7" fill="#32cd32"/>
<circle cx="350.4" cy="212.3" r="2.7" fill="#32cd32"/>
<circle cx="348.7" cy="215.8" r="2.7" fill="#32cd32"/>
<circle cx="355.1" cy="216.4" r="2.7" fill="#32cd32"/>
<circle cx="362.1" cy="212.3" r="2.7" fill="#32cd32"/>
<circle cx="369.1" cy="212.9" r="2.7" fill="#32cd32"/>
<circle cx="370.9" cy="215.2" r="2.7" fill="#32cd32"/>
<circle cx="376.7" cy="215.2" r="2.7" fill="#32cd32"/>
<circle cx="384.3" cy="212.9" r="2.7" fill="#32cd32"/>
<circle cx="390.7" cy="211.7" r="2.7" fill="#32cd32"/>
<circle cx="394.2" cy="215.2" r="2.7" fill="#32cd32"/>
<circle cx="400.1" cy="216.4" r="2.7" fill="#32cd32"/>
<circle cx="405.9" cy="217.0" r="2.7" fill="#32cd32"/>
<circle cx="331.8" cy="221.1" r="2.7" fill="#32cd32"/>
<circle cx="334.7" cy="219.9" r="2.7" fill="#32cd32"/>
<circle cx="332.9" cy="225.7" r="2.7" fill="#32cd32"/>
<circle cx="338.8" cy="225.7" r="2.7" fill="#32cd32"/>
<circle cx="353.4" cy="221.6" r="2.7" fill="#32cd32"/>
<circle cx="361.5" cy="219.3" r="2.7" fill="#32cd32"/>
<circle cx="364.5" cy="222.2" r="2.7" fill="#32cd32"/>
<circle cx="351.6" cy="226.3" r="2.7" fill="#32cd32"/>
<circle cx="359.2" cy="225.7" r="2.7" fill="#32cd32"/>
<circle cx="366.2" cy="224.0" r="2.7" fill="#32cd32"/>
<circle cx="369.7" cy="226.9" r="2.7" fill="#32cd32"/>
<circle cx="379.1" cy="224.0" r="2.7" fill="#32cd32"/>
<circle cx="376.1" cy="228.6" r="2.7" fill="#32cd32"/>
<circle cx="387.8" cy="221.1" r="2.7" fill="#32cd32"/>
<circle cx="390.7" cy="219.9" r="2.7" fill="#32cd32"/>
<circle cx="394.8" cy="219.9" r="2.7" fill="#32cd32"/>
<circle cx="398.9" cy="221.1" r="2.7" fill="#32cd32"/>
<circle cx="387.8" cy="226.3" r="2.7" fill="#32cd32"/>
<circle cx="391.9" cy="224.6" r="2.7" fill="#32cd32"/>
<circle cx="394.8" cy="228.6" r="2.7" fill="#32cd32"/>
<circle cx="404.7" cy="225.7" r="2.7" fill="#32cd32"/>
<circle cx="331.8" cy="230.4" r="2.7" fill="#32cd32"/>
<circle cx="332.3" cy="234.5" r="2.7" fill="#32cd32"/>
<circle cx="340.5" cy="233.9" r="2.7" fill="#32cd32"/>
<circle cx="347.5" cy="232.7" r="2.7" fill="#32cd32"/>
<circle cx="370.3" cy="232.2" r="2.7" fill="#32cd32"/>
<circle cx="380.2" cy="232.7" r="2.7" fill="#32cd32"/>
<circle cx="402.4" cy="231.6" r="2.7" fill="#32cd32"/>
<circle cx="405.9" cy="233.9" r="2.7" fill="#32cd32"/>
<circle cx="335.3" cy="240.9" r="2.7" fill="#32cd32"/>
<circle cx="342.3" cy="239.2" r="2.7" fill="#32cd32"/>
<circle cx="354.5" cy="237.6" r="2.7" fill="#32cd32"/>
<circle cx="363.9" cy="238.6" r="2.7" fill="#32cd32"/>
<circle cx="368.0" cy="236.8" r="2.7" fill="#32cd32"/>
<circle cx="376.1" cy="236.2" r="2.7" fill="#32cd32"/>
<circle cx="375.5" cy="241.5" r="2.7" fill="#32cd32"/>
<circle cx="384.3" cy="237.4" r="2.7" fill="#32cd32"/>
<circle cx="387.2" cy="240.3" r="2.7" fill="#32cd32"/>
<circle cx="391.9" cy="235.7" r="2.7" fill="#32cd32"/>
<circle cx="394.8" cy="236.2" r="2.7" fill="#32cd32"/>
<circle cx="393.6" cy="239.7" r="2.7" fill="#32cd32"/>
<circle cx="398.9" cy="238.0" r="2.7" fill="#32cd32"/>
<circle cx="405.3" cy="238.8" r="2.7" fill="#32cd32"/>
<circle cx="337.6" cy="246.8" r="2.7" fill="#32cd32"/>
<circle cx="334.1" cy="249.1" r="2.7" fill="#32cd32"/>
<circle cx="332.9" cy="254.3" r="2.7" fill="#32cd32"/>
<circle cx="337.6" cy="256.1" r="2.7" fill="#32cd32"/>
<circle cx="340.5" cy="260.2" r="2.7" fill="#32cd32"/>
<circle cx="331.8" cy="264.3" r="2.7" fill="#32cd32"/>
<circle cx="350.6" cy="250.5" r="2.7" fill="#32cd32"/>
<circle cx="361.3" cy="251.2" r="2.7" fill="#32cd32"/>
<circle cx="367.4" cy="252.9" r="2.7" fill="#32cd32"/>
<circle cx="369.5" cy="255.3" r="2.7" fill="#32cd32"/>
<circle cx="377.3" cy="250.3" r="2.7" fill="#32cd32"/>
<circle cx="376.7" cy="253.8" r="2.7" fill="#32cd32"/>
<circle cx="377.9" cy="257.3" r="2.7" fill="#32cd32"/>
<circle cx="379.6" cy="259.6" r="2.7" fill="#32cd32"/>
<circle cx="383.7" cy="263.1" r="2.7" fill="#32cd32"/>
<circle cx="384.9" cy="256.1" r="2.7" fill="#32cd32"/>
<circle cx="386.1" cy="253.8" r="2.7" fill="#32cd32"/>
<circle cx="377.3" cy="266.0" r="2.7" fill="#32cd32"/>
<circle cx="380.5" cy="266.4" r="2.7" fill="#32cd32"/>
<circle cx="387.0" cy="250.0" r="2.7" fill="#32cd32"/>
<circle cx="392.5" cy="250.3" r="2.7" fill="#32cd32"/>
<circle cx="396.6" cy="252.6" r="2.7" fill="#32cd32"/>
<circle cx="400.4" cy="250.6" r="2.7" fill="#32cd32"/>
<circle cx="405.7" cy="252.6" r="2.7" fill="#32cd32"/>
<circle cx="406.5" cy="247.9" r="2.7" fill="#32cd32"/>
<circle cx="391.3" cy="256.7" r="2.7" fill="#32cd32"/>
<circle cx="394.8" cy="259.9" r="2.7" fill="#32cd32"/>
<circle cx="357.1" cy="263.3" r="2.7" fill="#32cd32"/>
<circle cx="360.6" cy="264.3" r="2.7" fill="#32cd32"/>
<circle cx="360.6" cy="268.7" r="2.7" fill="#32cd32"/>
<circle cx="370.6" cy="268.1" r="2.7" fill="#32cd32"/>
<circle cx="353.4" cy="271.3" r="2.7" fill="#32cd32"/>
<circle cx="346.7" cy="274.0" r="2.7" fill="#32cd32"/>
<circle cx="354.3" cy="278.9" r="2.7" fill="#32cd32"/>
<circle cx="334.7" cy="282.4" r="2.7" fill="#32cd32"/>
<circle cx="375.2" cy="278.9" r="2.7" fill="#32cd32"/>
<circle cx="362.1" cy="285.3" r="2.7" fill="#32cd32"/>
<circle cx="357.7" cy="289.4" r="2.7" fill="#32cd32"/>
<circle cx="343.2" cy="291.4" r="2.7" fill="#32cd32"/>
<circle cx="373.0" cy="295.8" r="2.7" fill="#32cd32"/>
<circle cx="366.2" cy="297.8" r="2.7" fill="#32cd32"/>
<circle cx="408.2" cy="292.3" r="2.7" fill="#32cd32"/>
<circle cx="401.2" cy="299.9" r="2.7" fill="#32cd32"/>
<circle cx="405.3" cy="303.7" r="2.7" fill="#32cd32"/>
<circle cx="391.5" cy="307.6" r="2.7" fill="#32cd32"/>
<circle cx="387.5" cy="316.8" r="2.7" fill="#32cd32"/>
<circle cx="403.5" cy="76.9" r="2.7" fill="#32cd32"/>
<circle cx="423.6" cy="89.5" r="2.7" fill="#32cd32"/>
<circle cx="431.2" cy="86.2" r="2.7" fill="#32cd32"/>
<circle cx="466.2" cy="90.5" r="2.7" fill="#32cd32"/>
<circle cx="497.8" cy="93.4" r="2.7" fill="#32cd32"/>
<circle cx="497.1" cy="101.6" r="2.7" fill="#32cd32"/>
<circle cx="417.9" cy="112.1" r="2.7" fill="#32cd32"/>
<circle cx="412.3" cy="118.1" r="2.7" fill="#32cd32"/>
<circle cx="411.7" cy="125.4" r="2.7" fill="#32cd32"/>
<circle cx="409.3" cy="131.4" r="2.7" fill="#32cd32"/>
<circle cx="433.3" cy="119.3" r="2.7" fill="#32cd32"/>
<circle cx="429.4" cy="121.6" r="2.7" fill="#32cd32"/>
<circle cx="449.9" cy="119.8" r="2.7" fill="#32cd32"/>
<circle cx="478.7" cy="117.2" r="2.7" fill="#32cd32"/>
<circle cx="460.8" cy="132.4" r="2.7" fill="#32cd32"/>
<circle cx="426.3" cy="132.6" r="2.7" fill="#32cd32"/>
<circle cx="430.1" cy="134.5" r="2.7" fill="#32cd32"/>
<circle cx="438.9" cy="138.4" r="2.7" fill="#32cd32"/>
<circle cx="425.4" cy="142.4" r="2.7" fill="#32cd32"/>
<circle cx="451.2" cy="139.6" r="2.7" fill="#32cd32"/>
<circle cx="453.8" cy="142.8" r="2.7" fill="#32cd32"/>
<circle cx="476.4" cy="141.9" r="2.7" fill="#32cd32"/>
<circle cx="486.7" cy="141.4" r="2.7" fill="#32cd32"/>
<circle cx="479.4" cy="147.5" r="2.7" fill="#32cd32"/>
<circle cx="409.5" cy="145.2" r="2.7" fill="#32cd32"/>
<circle cx="417.2" cy="145.2" r="2.7" fill="#32cd32"/>
<circle cx="419.3" cy="151.3" r="2.7" fill="#32cd32"/>
<circle cx="423.5" cy="150.3" r="2.7" fill="#32cd32"/>
<circle cx="452.6" cy="150.6" r="2.7" fill="#32cd32"/>
<circle cx="455.2" cy="149.2" r="2.7" fill="#32cd32"/>
<circle cx="452.2" cy="154.5" r="2.7" fill="#32cd32"/>
<circle cx="457.5" cy="156.2" r="2.7" fill="#32cd32"/>
<circle cx="455.2" cy="160.3" r="2.7" fill="#32cd32"/>
<circle cx="468.1" cy="155.7" r="2.7" fill="#32cd32"/>
<circle cx="478.3" cy="156.4" r="2.7" fill="#32cd32"/>
<circle cx="485.3" cy="154.8" r="2.7" fill="#32cd32"/>
<circle cx="484.1" cy="159.2" r="2.7" fill="#32cd32"/>
<circle cx="407.9" cy="161.5" r="2.7" fill="#32cd32"/>
<circle cx="412.3" cy="160.6" r="2.7" fill="#32cd32"/>
<circle cx="416.1" cy="160.3" r="2.7" fill="#32cd32"/>
<circle cx="422.8" cy="160.6" r="2.7" fill="#32cd32"/>
<circle cx="426.3" cy="161.0" r="2.7" fill="#32cd32"/>
<circle cx="433.3" cy="159.2" r="2.7" fill="#32cd32"/>
<circle cx="435.9" cy="160.3" r="2.7" fill="#32cd32"/>
<circle cx="441.3" cy="160.1" r="2.7" fill="#32cd32"/>
<circle cx="466.2" cy="161.5" r="2.7" fill="#32cd32"/>
<circle cx="413.5" cy="161.8" r="2.7" fill="#32cd32"/>
<circle cx="417.0" cy="161.8" r="2.7" fill="#32cd32"/>
<circle cx="422.8" cy="161.8" r="2.7" fill="#32cd32"/>
<circle cx="451.5" cy="164.4" r="2.7" fill="#32cd32"/>
<circle cx="471.3" cy="163.5" r="2.7" fill="#32cd32"/>
<circle cx="476.0" cy="164.4" r="2.7" fill="#32cd32"/>
<circle cx="422.8" cy="165.3" r="2.7" fill="#32cd32"/>
<circle cx="424.0" cy="169.9" r="2.7" fill="#32cd32"/>
<circle cx="428.1" cy="166.4" r="2.7" fill="#32cd32"/>
<circle cx="432.2" cy="166.4" r="2.7" fill="#32cd32"/>
<circle cx="434.5" cy="169.9" r="2.7" fill="#32cd32"/>
<circle cx="440.1" cy="167.8" r="2.7" fill="#32cd32"/>
<circle cx="415.3" cy="170.5" r="2.7" fill="#32cd32"/>
<circle cx="457.3" cy="172.3" r="2.7" fill="#32cd32"/>
<circle cx="471.9" cy="173.4" r="2.7" fill="#32cd32"/>
<circle cx="471.3" cy="176.4" r="2.7" fill="#32cd32"/>
<circle cx="481.2" cy="172.3" r="2.7" fill="#32cd32"/>
<circle cx="480.1" cy="176.9" r="2.7" fill="#32cd32"/>
<circle cx="426.4" cy="177.5" r="2.7" fill="#32cd32"/>
<circle cx="428.7" cy="176.4" r="2.7" fill="#32cd32"/>
<circle cx="431.0" cy="177.8" r="2.7" fill="#32cd32"/>
<circle cx="438.6" cy="177.8" r="2.7" fill="#32cd32"/>
<circle cx="440.9" cy="176.4" r="2.7" fill="#32cd32"/>
<circle cx="447.1" cy="175.2" r="2.7" fill="#32cd32"/>
<circle cx="447.4" cy="179.3" r="2.7" fill="#32cd32"/>
<circle cx="447.7" cy="183.4" r="2.7" fill="#32cd32"/>
<circle cx="415.8" cy="178.1" r="2.7" fill="#32cd32"/>
<circle cx="415.3" cy="181.6" r="2.7" fill="#32cd32"/>
<circle cx="416.4" cy="183.9" r="2.7" fill="#32cd32"/>
<circle cx="432.8" cy="182.8" r="2.7" fill="#32cd32"/>
<circle cx="439.2" cy="183.9" r="2.7" fill="#32cd32"/>
<circle cx="422.0" cy="185.9" r="2.7" fill="#32cd32"/>
<circle cx="421.1" cy="191.5" r="2.7" fill="#32cd32"/>
<circle cx="427.5" cy="189.2" r="2.7" fill="#32cd32"/>
<circle cx="431.6" cy="188.0" r="2.7" fill="#32cd32"/>
<circle cx="430.4" cy="192.7" r="2.7" fill="#32cd32"/>
<circle cx="434.5" cy="190.9" r="2.7" fill="#32cd32"/>
<circle cx="441.5" cy="188.0" r="2.7" fill="#32cd32"/>
<circle cx="444.5" cy="192.7" r="2.7" fill="#32cd32"/>
<circle cx="442.7" cy="190.9" r="2.7" fill="#32cd32"/>
<circle cx="413.5" cy="190.9" r="2.7" fill="#32cd32"/>
<circle cx="411.8" cy="193.3" r="2.7" fill="#32cd32"/>
<circle cx="454.1" cy="188.6" r="2.7" fill="#32cd32"/>
<circle cx="459.6" cy="190.9" r="2.7" fill="#32cd32"/>
<circle cx="466.9" cy="194.5" r="2.7" fill="#32cd32"/>
<circle cx="480.7" cy="188.0" r="2.7" fill="#32cd32"/>
<circle cx="487.1" cy="194.8" r="2.7" fill="#32cd32"/>
<circle cx="436.9" cy="195.0" r="2.7" fill="#32cd32"/>
<circle cx="438.6" cy="198.0" r="2.7" fill="#32cd32"/>
<circle cx="435.1" cy="200.3" r="2.7" fill="#32cd32"/>
<circle cx="445.0" cy="199.1" r="2.7" fill="#32cd32"/>
<circle cx="442.7" cy="203.2" r="2.7" fill="#32cd32"/>
<circle cx="440.9" cy="206.1" r="2.7" fill="#32cd32"/>
<circle cx="451.5" cy="196.8" r="2.7" fill="#32cd32"/>
<circle cx="452.6" cy="199.1" r="2.7" fill="#32cd32"/>
<circle cx="417.0" cy="196.8" r="2.7" fill="#32cd32"/>
<circle cx="419.9" cy="198.5" r="2.7" fill="#32cd32"/>
<circle cx="423.4" cy="199.7" r="2.7" fill="#32cd32"/>
<circle cx="424.0" cy="202.6" r="2.7" fill="#32cd32"/>
<circle cx="428.1" cy="203.2" r="2.7" fill="#32cd32"/>
<circle cx="414.1" cy="200.9" r="2.7" fill="#32cd32"/>
<circle cx="415.8" cy="204.4" r="2.7" fill="#32cd32"/>
<circle cx="411.8" cy="206.1" r="2.7" fill="#32cd32"/>
<circle cx="414.7" cy="209.1" r="2.7" fill="#32cd32"/>
<circle cx="416.4" cy="212.6" r="2.7" fill="#32cd32"/>
<circle cx="428.1" cy="207.3" r="2.7" fill="#32cd32"/>
<circle cx="433.9" cy="207.3" r="2.7" fill="#32cd32"/>
<circle cx="438.0" cy="209.6" r="2.7" fill="#32cd32"/>
<circle cx="442.1" cy="213.1" r="2.7" fill="#32cd32"/>
<circle cx="452.0" cy="205.5" r="2.7" fill="#32cd32"/>
<circle cx="457.3" cy="205.5" r="2.7" fill="#32cd32"/>
<circle cx="466.1" cy="207.3" r="2.7" fill="#32cd32"/>
<circle cx="464.9" cy="209.1" r="2.7" fill="#32cd32"/>
<circle cx="482.6" cy="201.1" r="2.7" fill="#32cd32"/>
<circle cx="485.1" cy="206.1" r="2.7" fill="#32cd32"/>
<circle cx="484.2" cy="208.8" r="2.7" fill="#32cd32"/>
<circle cx="461.4" cy="216.3" r="2.7" fill="#32cd32"/>
<circle cx="430.4" cy="216.3" r="2.7" fill="#32cd32"/>
<circle cx="442.5" cy="219.6" r="2.7" fill="#32cd32"/>
<circle cx="480.1" cy="217.0" r="2.7" fill="#32cd32"/>
<circle cx="480.4" cy="221.3" r="2.7" fill="#32cd32"/>
<circle cx="414.1" cy="218.4" r="2.7" fill="#32cd32"/>
<circle cx="418.2" cy="221.3" r="2.7" fill="#32cd32"/>
<circle cx="416.4" cy="225.4" r="2.7" fill="#32cd32"/>
<circle cx="412.3" cy="222.5" r="2.7" fill="#32cd32"/>
<circle cx="427.5" cy="225.4" r="2.7" fill="#32cd32"/>
<circle cx="422.3" cy="227.4" r="2.7" fill="#32cd32"/>
<circle cx="438.0" cy="226.6" r="2.7" fill="#32cd32"/>
<circle cx="443.9" cy="226.3" r="2.7" fill="#32cd32"/>
<circle cx="467.0" cy="228.9" r="2.7" fill="#32cd32"/>
<circle cx="468.2" cy="230.9" r="2.7" fill="#32cd32"/>
<circle cx="486.7" cy="230.9" r="2.7" fill="#32cd32"/>
<circle cx="411.8" cy="233.0" r="2.7" fill="#32cd32"/>
<circle cx="432.8" cy="235.9" r="2.7" fill="#32cd32"/>
<circle cx="436.3" cy="233.9" r="2.7" fill="#32cd32"/>
<circle cx="438.6" cy="236.5" r="2.7" fill="#32cd32"/>
<circle cx="440.9" cy="237.1" r="2.7" fill="#32cd32"/>
<circle cx="452.0" cy="237.1" r="2.7" fill="#32cd32"/>
<circle cx="457.3" cy="234.7" r="2.7" fill="#32cd32"/>
<circle cx="460.2" cy="235.3" r="2.7" fill="#32cd32"/>
<circle cx="482.4" cy="236.7" r="2.7" fill="#32cd32"/>
<circle cx="421.4" cy="243.3" r="2.7" fill="#32cd32"/>
<circle cx="415.8" cy="245.6" r="2.7" fill="#32cd32"/>
<circle cx="411.8" cy="250.5" r="2.7" fill="#32cd32"/>
<circle cx="416.7" cy="250.9" r="2.7" fill="#32cd32"/>
<circle cx="423.4" cy="249.7" r="2.7" fill="#32cd32"/>
<circle cx="412.3" cy="256.7" r="2.7" fill="#32cd32"/>
<circle cx="474.0" cy="241.8" r="2.7" fill="#32cd32"/>
<circle cx="447.4" cy="247.6" r="2.7" fill="#32cd32"/>
<circle cx="443.9" cy="250.3" r="2.7" fill="#32cd32"/>
<circle cx="446.2" cy="250.7" r="2.7" fill="#32cd32"/>
<circle cx="457.9" cy="249.1" r="2.7" fill="#32cd32"/>
<circle cx="433.4" cy="256.0" r="2.7" fill="#32cd32"/>
<circle cx="437.1" cy="259.9" r="2.7" fill="#32cd32"/>
<circle cx="424.7" cy="258.7" r="2.7" fill="#32cd32"/>
<circle cx="427.5" cy="264.5" r="2.7" fill="#32cd32"/>
<circle cx="415.5" cy="267.4" r="2.7" fill="#32cd32"/>
<circle cx="419.6" cy="268.0" r="2.7" fill="#32cd32"/>
<circle cx="421.1" cy="272.7" r="2.7" fill="#32cd32"/>
<circle cx="435.3" cy="271.9" r="2.7" fill="#32cd32"/>
<circle cx="468.7" cy="265.1" r="2.7" fill="#32cd32"/>
<circle cx="469.2" cy="267.1" r="2.7" fill="#32cd32"/>
<circle cx="462.2" cy="271.2" r="2.7" fill="#32cd32"/>
<circle cx="430.8" cy="280.6" r="2.7" fill="#32cd32"/>
<circle cx="428.5" cy="289.4" r="2.7" fill="#32cd32"/>
<circle cx="488.0" cy="282.0" r="2.7" fill="#32cd32"/>
<circle cx="456.7" cy="294.1" r="2.7" fill="#32cd32"/>
<circle cx="537.3" cy="131.4" r="2.7" fill="#32cd32"/>
<circle cx="518.4" cy="156.8" r="2.7" fill="#32cd32"/>
<circle cx="601.4" cy="162.4" r="2.7" fill="#32cd32"/>
<circle cx="550.6" cy="167.1" r="2.7" fill="#32cd32"/>
<circle cx="492.5" cy="172.4" r="2.7" fill="#32cd32"/>
<circle cx="514.2" cy="171.3" r="2.7" fill="#32cd32"/>
<circle cx="518.4" cy="177.3" r="2.7" fill="#32cd32"/>
<circle cx="514.2" cy="179.0" r="2.7" fill="#32cd32"/>
<circle cx="516.5" cy="185.5" r="2.7" fill="#32cd32"/>
<circle cx="522.4" cy="184.8" r="2.7" fill="#32cd32"/>
<circle cx="505.2" cy="189.2" r="2.7" fill="#32cd32"/>
<circle cx="524.2" cy="191.4" r="2.7" fill="#32cd32"/>
<circle cx="494.7" cy="191.3" r="2.7" fill="#32cd32"/>
<circle cx="494.4" cy="195.5" r="2.7" fill="#32cd32"/>
<circle cx="498.8" cy="195.6" r="2.7" fill="#32cd32"/>
<circle cx="546.9" cy="193.9" r="2.7" fill="#32cd32"/>
<circle cx="550.6" cy="195.5" r="2.7" fill="#32cd32"/>
<circle cx="579.0" cy="198.1" r="2.7" fill="#32cd32"/>
<circle cx="522.2" cy="200.2" r="2.7" fill="#32cd32"/>
<circle cx="499.3" cy="201.1" r="2.7" fill="#32cd32"/>
<circle cx="499.3" cy="203.7" r="2.7" fill="#32cd32"/>
<circle cx="505.8" cy="205.6" r="2.7" fill="#32cd32"/>
<circle cx="511.5" cy="204.9" r="2.7" fill="#32cd32"/>
<circle cx="542.7" cy="204.4" r="2.7" fill="#32cd32"/>
<circle cx="538.0" cy="207.9" r="2.7" fill="#32cd32"/>
<circle cx="565.2" cy="212.1" r="2.7" fill="#32cd32"/>
<circle cx="592.8" cy="215.1" r="2.7" fill="#32cd32"/>
<circle cx="501.2" cy="215.8" r="2.7" fill="#32cd32"/>
<circle cx="510.5" cy="215.8" r="2.7" fill="#32cd32"/>
<circle cx="496.7" cy="223.8" r="2.7" fill="#32cd32"/>
<circle cx="508.0" cy="223.8" r="2.7" fill="#32cd32"/>
<circle cx="526.6" cy="229.2" r="2.7" fill="#32cd32"/>
<circle cx="545.4" cy="234.3" r="2.7" fill="#32cd32"/>
<circle cx="575.3" cy="245.1" r="2.7" fill="#32cd32"/>
<circle cx="534.1" cy="249.3" r="2.7" fill="#32cd32"/>
<circle cx="495.6" cy="255.6" r="2.7" fill="#32cd32"/>
<circle cx="499.8" cy="258.4" r="2.7" fill="#32cd32"/>
<circle cx="515.4" cy="266.7" r="2.7" fill="#32cd32"/>
<circle cx="515.4" cy="271.1" r="2.7" fill="#32cd32"/>
<circle cx="531.0" cy="265.6" r="2.7" fill="#32cd32"/>
<circle cx="549.9" cy="273.9" r="2.7" fill="#32cd32"/>
<circle cx="535.5" cy="286.1" r="2.7" fill="#32cd32"/>
<circle cx="630.7" cy="122.0" r="2.7" fill="#32cd32"/>
<circle cx="309.3" cy="64.7" r="2.7" fill="#32cd32"/>
<circle cx="331.8" cy="174.3" r="2.7" fill="#32cd32"/>
<circle cx="362.1" cy="176.7" r="2.7" fill="#32cd32"/>
<circle cx="365.0" cy="177.8" r="2.7" fill="#32cd32"/>
<circle cx="368.5" cy="175.5" r="2.7" fill="#32cd32"/>
<circle cx="366.8" cy="182.5" r="2.7" fill="#32cd32"/>
<circle cx="360.4" cy="179.6" r="2.7" fill="#32cd32"/>
<circle cx="351.6" cy="184.9" r="2.7" fill="#32cd32"/>
<circle cx="353.9" cy="186.0" r="2.7" fill="#32cd32"/>
<circle cx="355.7" cy="195.9" r="2.7" fill="#32cd32"/>
<circle cx="353.4" cy="197.7" r="2.7" fill="#32cd32"/>
<circle cx="334.7" cy="186.6" r="2.7" fill="#32cd32"/>
<circle cx="331.8" cy="190.1" r="2.7" fill="#32cd32"/>
<circle cx="360.9" cy="190.1" r="2.7" fill="#32cd32"/>
<circle cx="363.9" cy="193.6" r="2.7" fill="#32cd32"/>
<circle cx="360.4" cy="197.1" r="2.7" fill="#32cd32"/>
<circle cx="358.6" cy="203.5" r="2.7" fill="#32cd32"/>
<circle cx="361.5" cy="201.8" r="2.7" fill="#32cd32"/>
<circle cx="342.3" cy="201.2" r="2.7" fill="#32cd32"/>
<circle cx="347.5" cy="200.6" r="2.7" fill="#32cd32"/>
<circle cx="348.7" cy="207.0" r="2.7" fill="#32cd32"/>
<circle cx="331.8" cy="204.1" r="2.7" fill="#32cd32"/>
<circle cx="334.7" cy="200.0" r="2.7" fill="#32cd32"/>
<circle cx="335.8" cy="213.5" r="2.7" fill="#32cd32"/>
<circle cx="332.3" cy="218.1" r="2.7" fill="#32cd32"/>
<circle cx="335.3" cy="222.8" r="2.7" fill="#32cd32"/>
<circle cx="331.8" cy="226.9" r="2.7" fill="#32cd32"/>
<circle cx="334.1" cy="229.2" r="2.7" fill="#32cd32"/>
<circle cx="333.5" cy="236.2" r="2.7" fill="#32cd32"/>
<circle cx="389.0" cy="195.9" r="2.7" fill="#32cd32"/>
<circle cx="386.6" cy="197.7" r="2.7" fill="#32cd32"/>
<circle cx="393.1" cy="195.9" r="2.7" fill="#32cd32"/>
<circle cx="388.4" cy="200.0" r="2.7" fill="#32cd32"/>
<circle cx="393.6" cy="199.5" r="2.7" fill="#32cd32"/>
<circle cx="400.1" cy="201.8" r="2.7" fill="#32cd32"/>
<circle cx="404.2" cy="198.3" r="2.7" fill="#32cd32"/>
<circle cx="391.9" cy="208.8" r="2.7" fill="#32cd32"/>
<circle cx="387.2" cy="214.1" r="2.7" fill="#32cd32"/>
<circle cx="402.4" cy="214.6" r="2.7" fill="#32cd32"/>
<circle cx="397.7" cy="213.5" r="2.7" fill="#32cd32"/>
<circle cx="407.7" cy="218.1" r="2.7" fill="#32cd32"/>
<circle cx="397.2" cy="218.1" r="2.7" fill="#32cd32"/>
<circle cx="389.6" cy="223.4" r="2.7" fill="#32cd32"/>
<circle cx="393.1" cy="222.2" r="2.7" fill="#32cd32"/>
<circle cx="397.2" cy="224.6" r="2.7" fill="#32cd32"/>
<circle cx="390.1" cy="228.6" r="2.7" fill="#32cd32"/>
<circle cx="387.8" cy="173.2" r="2.7" fill="#32cd32"/>
<circle cx="392.5" cy="174.9" r="2.7" fill="#32cd32"/>
<circle cx="386.6" cy="177.8" r="2.7" fill="#32cd32"/>
<circle cx="403.0" cy="171.4" r="2.7" fill="#32cd32"/>
<circle cx="406.5" cy="170.8" r="2.7" fill="#32cd32"/>
<circle cx="399.5" cy="173.8" r="2.7" fill="#32cd32"/>
<circle cx="404.2" cy="174.9" r="2.7" fill="#32cd32"/>
<circle cx="408.2" cy="168.5" r="2.7" fill="#32cd32"/>
<circle cx="376.1" cy="189.5" r="2.7" fill="#32cd32"/>
<circle cx="380.8" cy="187.8" r="2.7" fill="#32cd32"/>
<circle cx="372.0" cy="186.6" r="2.7" fill="#32cd32"/>
<circle cx="352.8" cy="218.7" r="2.7" fill="#32cd32"/>
<circle cx="349.9" cy="216.4" r="2.7" fill="#32cd32"/>
<circle cx="377.3" cy="226.3" r="2.7" fill="#32cd32"/>
<circle cx="303.7" cy="172.0" r="2.7" fill="#32cd32"/>
<circle cx="307.2" cy="176.1" r="2.7" fill="#32cd32"/>
<circle cx="311.9" cy="174.9" r="2.7" fill="#32cd32"/>
<circle cx="317.2" cy="177.3" r="2.7" fill="#32cd32"/>
<circle cx="324.7" cy="177.8" r="2.7" fill="#32cd32"/>
<circle cx="327.1" cy="170.3" r="2.7" fill="#32cd32"/>
<circle cx="322.4" cy="170.8" r="2.7" fill="#32cd32"/>
<circle cx="316.6" cy="170.3" r="2.7" fill="#32cd32"/>
<circle cx="312.5" cy="169.1" r="2.7" fill="#32cd32"/>
<circle cx="305.5" cy="168.5" r="2.7" fill="#32cd32"/>
<circle cx="321.2" cy="193.0" r="2.7" fill="#32cd32"/>
<circle cx="322.4" cy="198.9" r="2.7" fill="#32cd32"/>
<circle cx="325.9" cy="188.4" r="2.7" fill="#32cd32"/>
<circle cx="323.0" cy="214.1" r="2.7" fill="#32cd32"/>
<circle cx="328.2" cy="211.7" r="2.7" fill="#32cd32"/>
<circle cx="327.7" cy="219.9" r="2.7" fill="#32cd32"/>
<circle cx="320.1" cy="230.4" r="2.7" fill="#32cd32"/>
<circle cx="249.4" cy="188.4" r="2.7" fill="#dc143c"/>
<circle cx="194.5" cy="244.6" r="2.7" fill="#dc143c"/>
<circle cx="202.4" cy="245.0" r="2.7" fill="#dc143c"/>
<circle cx="230.7" cy="245.0" r="2.7" fill="#dc143c"/>
<circle cx="219.6" cy="245.6" r="2.7" fill="#dc143c"/>
<circle cx="273.9" cy="164.2" r="2.7" fill="#dc143c"/>
<circle cx="280.1" cy="165.0" r="2.7" fill="#dc143c"/>
<circle cx="329.4" cy="149.8" r="2.7" fill="#32cd32"/>
<circle cx="327.7" cy="164.4" r="2.7" fill="#32cd32"/>
<circle cx="251.2" cy="183.7" r="2.7" fill="#dc143c"/>
<circle cx="251.2" cy="193.4" r="2.7" fill="#dc143c"/>
<circle cx="295.0" cy="243.8" r="2.7" fill="#dc143c"/>
<circle cx="313.6" cy="166.2" r="2.7" fill="#32cd32"/>
<circle cx="329.4" cy="179.0" r="2.7" fill="#32cd32"/>
<circle cx="329.4" cy="201.2" r="2.7" fill="#32cd32"/>
<circle cx="257.6" cy="246.4" r="2.7" fill="#dc143c"/>
<circle cx="300.2" cy="246.2" r="2.7" fill="#32cd32"/>
<circle cx="330.9" cy="121.2" r="2.7" fill="#32cd32"/>
<circle cx="367.4" cy="163.8" r="2.7" fill="#32cd32"/>
<circle cx="375.0" cy="164.4" r="2.7" fill="#32cd32"/>
<circle cx="351.6" cy="163.8" r="2.7" fill="#32cd32"/>
<circle cx="337.0" cy="165.0" r="2.7" fill="#32cd32"/>
<circle cx="331.2" cy="170.3" r="2.7" fill="#32cd32"/>
<circle cx="409.4" cy="173.8" r="2.7" fill="#32cd32"/>
<circle cx="331.2" cy="211.7" r="2.7" fill="#32cd32"/>
<circle cx="344.0" cy="243.8" r="2.7" fill="#32cd32"/>
<circle cx="377.9" cy="244.4" r="2.7" fill="#32cd32"/>
<circle cx="331.2" cy="258.4" r="2.7" fill="#32cd32"/>
<circle cx="331.2" cy="277.1" r="2.7" fill="#32cd32"/>
<circle cx="410.0" cy="282.6" r="2.7" fill="#32cd32"/>
<circle cx="409.4" cy="308.6" r="2.7" fill="#32cd32"/>
<circle cx="489.3" cy="164.1" r="2.7" fill="#32cd32"/>
<circle cx="489.4" cy="167.6" r="2.7" fill="#32cd32"/>
<circle cx="411.2" cy="226.6" r="2.7" fill="#32cd32"/>
<circle cx="425.8" cy="240.0" r="2.7" fill="#32cd32"/>
<circle cx="445.0" cy="240.0" r="2.7" fill="#32cd32"/>
<circle cx="464.9" cy="240.0" r="2.7" fill="#32cd32"/>
<circle cx="491.8" cy="194.6" r="2.7" fill="#32cd32"/>
<circle cx="513.3" cy="219.1" r="2.7" fill="#32cd32"/>
<circle cx="520.7" cy="219.1" r="2.7" fill="#32cd32"/>
<circle cx="525.9" cy="219.1" r="2.7" fill="#32cd32"/>
<line x1="266.73" y1="30.20" x2="266.73" y2="343.55" stroke="#3a3a3a" stroke-width="1.15" stroke-dasharray="3.7 6.7"/>
<ellipse cx="350.15" cy="199.00" rx="206.75" ry="104.00" fill="none" stroke="#008000" stroke-width="2"/>
<line x1="298.20" y1="26.10" x2="295.50" y2="348.05" stroke="#000" stroke-width="2" stroke-dasharray="3.8 2.86"/>
<text class="s" font-size="13.4" text-anchor="start" transform="translate(289.92,333.20) rotate(-89.520) scale(1,1.100)">WTP=4733.73</text>
<path d="M46.1 37.50H52.2V336.50H46.1" fill="none" stroke="#1a1a1a" stroke-width="1.2"/>
<line x1="46.1" y1="67.40" x2="52.2" y2="67.40" stroke="#1a1a1a" stroke-width="1.2"/>
<line x1="46.1" y1="97.30" x2="52.2" y2="97.30" stroke="#1a1a1a" stroke-width="1.2"/>
<line x1="46.1" y1="127.20" x2="52.2" y2="127.20" stroke="#1a1a1a" stroke-width="1.2"/>
<line x1="46.1" y1="157.10" x2="52.2" y2="157.10" stroke="#1a1a1a" stroke-width="1.2"/>
<line x1="46.1" y1="187.00" x2="52.2" y2="187.00" stroke="#1a1a1a" stroke-width="1.2"/>
<line x1="46.1" y1="216.90" x2="52.2" y2="216.90" stroke="#1a1a1a" stroke-width="1.2"/>
<line x1="46.1" y1="246.80" x2="52.2" y2="246.80" stroke="#1a1a1a" stroke-width="1.2"/>
<line x1="46.1" y1="276.70" x2="52.2" y2="276.70" stroke="#1a1a1a" stroke-width="1.2"/>
<line x1="46.1" y1="306.60" x2="52.2" y2="306.60" stroke="#1a1a1a" stroke-width="1.2"/>
<text font-size="13" text-anchor="end" transform="translate(43.60,42.20) scale(1,1.040)">590</text>
<text font-size="13" text-anchor="end" transform="translate(43.60,72.10) scale(1,1.040)">585</text>
<text font-size="13" text-anchor="end" transform="translate(43.60,102.00) scale(1,1.040)">580</text>
<text font-size="13" text-anchor="end" transform="translate(43.60,131.90) scale(1,1.040)">575</text>
<text font-size="13" text-anchor="end" transform="translate(43.60,161.80) scale(1,1.040)">570</text>
<text font-size="13" text-anchor="end" transform="translate(43.60,191.70) scale(1,1.040)">565</text>
<text font-size="13" text-anchor="end" transform="translate(43.60,221.60) scale(1,1.040)">560</text>
<text font-size="13" text-anchor="end" transform="translate(43.60,251.50) scale(1,1.040)">555</text>
<text font-size="13" text-anchor="end" transform="translate(43.60,281.40) scale(1,1.040)">550</text>
<text font-size="13" text-anchor="end" transform="translate(43.60,311.30) scale(1,1.040)">545</text>
<text font-size="13" text-anchor="end" transform="translate(43.60,341.20) scale(1,1.040)">540</text>
<path d="M63.67 353.55V348.05H672.86V353.55" fill="none" stroke="#1a1a1a" stroke-width="1.2"/>
<text font-size="13" text-anchor="middle" transform="translate(64.07,366.00) scale(1,1.040)">−0.80</text>
<line x1="114.43" y1="348.05" x2="114.43" y2="353.55" stroke="#1a1a1a" stroke-width="1.2"/>
<text font-size="13" text-anchor="middle" transform="translate(114.83,366.00) scale(1,1.040)">−0.60</text>
<line x1="165.20" y1="348.05" x2="165.20" y2="353.55" stroke="#1a1a1a" stroke-width="1.2"/>
<text font-size="13" text-anchor="middle" transform="translate(165.60,366.00) scale(1,1.040)">−0.40</text>
<line x1="215.96" y1="348.05" x2="215.96" y2="353.55" stroke="#1a1a1a" stroke-width="1.2"/>
<text font-size="13" text-anchor="middle" transform="translate(216.36,366.00) scale(1,1.040)">−0.20</text>
<line x1="266.73" y1="348.05" x2="266.73" y2="353.55" stroke="#1a1a1a" stroke-width="1.2"/>
<text font-size="13" text-anchor="middle" transform="translate(267.03,366.00) scale(1,1.040)">0.00</text>
<line x1="317.50" y1="348.05" x2="317.50" y2="353.55" stroke="#1a1a1a" stroke-width="1.2"/>
<text font-size="13" text-anchor="middle" transform="translate(317.80,366.00) scale(1,1.040)">0.20</text>
<line x1="368.26" y1="348.05" x2="368.26" y2="353.55" stroke="#1a1a1a" stroke-width="1.2"/>
<text font-size="13" text-anchor="middle" transform="translate(368.56,366.00) scale(1,1.040)">0.40</text>
<line x1="419.03" y1="348.05" x2="419.03" y2="353.55" stroke="#1a1a1a" stroke-width="1.2"/>
<text font-size="13" text-anchor="middle" transform="translate(419.33,366.00) scale(1,1.040)">0.60</text>
<line x1="469.79" y1="348.05" x2="469.79" y2="353.55" stroke="#1a1a1a" stroke-width="1.2"/>
<text font-size="13" text-anchor="middle" transform="translate(470.09,366.00) scale(1,1.040)">0.80</text>
<line x1="520.56" y1="348.05" x2="520.56" y2="353.55" stroke="#1a1a1a" stroke-width="1.2"/>
<text font-size="13" text-anchor="middle" transform="translate(520.86,366.00) scale(1,1.040)">1.00</text>
<line x1="571.33" y1="348.05" x2="571.33" y2="353.55" stroke="#1a1a1a" stroke-width="1.2"/>
<text font-size="13" text-anchor="middle" transform="translate(571.63,366.00) scale(1,1.040)">1.20</text>
<line x1="622.09" y1="348.05" x2="622.09" y2="353.55" stroke="#1a1a1a" stroke-width="1.2"/>
<text font-size="13" text-anchor="middle" transform="translate(622.39,366.00) scale(1,1.040)">1.40</text>
<text font-size="13" text-anchor="middle" transform="translate(673.16,366.00) scale(1,1.040)">1.60</text>
<text class="b" font-size="15.2" text-anchor="middle" transform="translate(353.70,11.30) scale(1,1.040)">ICE Scatterplot, Desmopressin vs. Imipramine</text>
<text class="b" font-size="13.4" text-anchor="middle" transform="translate(368.40,380.90) scale(1,1.040)">Incremental Cost (USD)</text>
<text class="b" font-size="13.45" text-anchor="middle" transform="translate(10.00,190.40) rotate(-90.000) scale(1,1.040)">Incremental QALYs</text>
<line x1="63.67" y1="456.30" x2="63.67" y2="778.65" stroke="#ececec" stroke-width="1"/>
<line x1="114.43" y1="456.30" x2="114.43" y2="778.65" stroke="#ececec" stroke-width="1"/>
<line x1="165.20" y1="456.30" x2="165.20" y2="778.65" stroke="#ececec" stroke-width="1"/>
<line x1="215.96" y1="456.30" x2="215.96" y2="778.65" stroke="#ececec" stroke-width="1"/>
<line x1="266.73" y1="456.30" x2="266.73" y2="778.65" stroke="#ececec" stroke-width="1"/>
<line x1="317.50" y1="456.30" x2="317.50" y2="778.65" stroke="#ececec" stroke-width="1"/>
<line x1="368.26" y1="456.30" x2="368.26" y2="778.65" stroke="#ececec" stroke-width="1"/>
<line x1="419.03" y1="456.30" x2="419.03" y2="778.65" stroke="#ececec" stroke-width="1"/>
<line x1="469.79" y1="456.30" x2="469.79" y2="778.65" stroke="#ececec" stroke-width="1"/>
<line x1="520.56" y1="456.30" x2="520.56" y2="778.65" stroke="#ececec" stroke-width="1"/>
<line x1="571.33" y1="456.30" x2="571.33" y2="778.65" stroke="#ececec" stroke-width="1"/>
<line x1="622.09" y1="456.30" x2="622.09" y2="778.65" stroke="#ececec" stroke-width="1"/>
<line x1="672.86" y1="456.30" x2="672.86" y2="778.65" stroke="#ececec" stroke-width="1"/>
<line x1="53" y1="468.25" x2="684" y2="468.25" stroke="#ececec" stroke-width="1"/>
<line x1="53" y1="493.21" x2="684" y2="493.21" stroke="#ececec" stroke-width="1"/>
<line x1="53" y1="518.17" x2="684" y2="518.17" stroke="#ececec" stroke-width="1"/>
<line x1="53" y1="543.13" x2="684" y2="543.13" stroke="#ececec" stroke-width="1"/>
<line x1="53" y1="568.09" x2="684" y2="568.09" stroke="#ececec" stroke-width="1"/>
<line x1="53" y1="593.05" x2="684" y2="593.05" stroke="#ececec" stroke-width="1"/>
<line x1="53" y1="618.01" x2="684" y2="618.01" stroke="#ececec" stroke-width="1"/>
<line x1="53" y1="642.97" x2="684" y2="642.97" stroke="#ececec" stroke-width="1"/>
<line x1="53" y1="667.93" x2="684" y2="667.93" stroke="#ececec" stroke-width="1"/>
<line x1="53" y1="692.89" x2="684" y2="692.89" stroke="#ececec" stroke-width="1"/>
<line x1="53" y1="717.85" x2="684" y2="717.85" stroke="#ececec" stroke-width="1"/>
<line x1="53" y1="742.81" x2="684" y2="742.81" stroke="#ececec" stroke-width="1"/>
<line x1="53" y1="767.77" x2="684" y2="767.77" stroke="#ececec" stroke-width="1"/>
<circle cx="299.0" cy="589.1" r="2.7" fill="#dc143c"/>
<circle cx="299.0" cy="617.7" r="2.7" fill="#dc143c"/>
<circle cx="117.2" cy="589.8" r="2.7" fill="#dc143c"/>
<circle cx="121.4" cy="587.9" r="2.7" fill="#dc143c"/>
<circle cx="133.5" cy="605.6" r="2.7" fill="#dc143c"/>
<circle cx="151.5" cy="612.4" r="2.7" fill="#dc143c"/>
<circle cx="166.2" cy="620.8" r="2.7" fill="#dc143c"/>
<circle cx="126.3" cy="627.8" r="2.7" fill="#dc143c"/>
<circle cx="180.4" cy="610.8" r="2.7" fill="#dc143c"/>
<circle cx="207.4" cy="582.6" r="2.7" fill="#dc143c"/>
<circle cx="208.1" cy="597.7" r="2.7" fill="#dc143c"/>
<circle cx="209.5" cy="599.1" r="2.7" fill="#dc143c"/>
<circle cx="202.5" cy="602.9" r="2.7" fill="#dc143c"/>
<circle cx="200.2" cy="608.9" r="2.7" fill="#dc143c"/>
<circle cx="202.0" cy="612.0" r="2.7" fill="#dc143c"/>
<circle cx="202.5" cy="616.4" r="2.7" fill="#dc143c"/>
<circle cx="204.6" cy="616.9" r="2.7" fill="#dc143c"/>
<circle cx="215.6" cy="617.6" r="2.7" fill="#dc143c"/>
<circle cx="192.3" cy="622.6" r="2.7" fill="#dc143c"/>
<circle cx="191.8" cy="626.9" r="2.7" fill="#dc143c"/>
<circle cx="198.5" cy="625.5" r="2.7" fill="#dc143c"/>
<circle cx="212.1" cy="632.2" r="2.7" fill="#dc143c"/>
<circle cx="214.7" cy="635.7" r="2.7" fill="#dc143c"/>
<circle cx="206.5" cy="635.7" r="2.7" fill="#dc143c"/>
<circle cx="202.7" cy="639.5" r="2.7" fill="#dc143c"/>
<circle cx="213.7" cy="641.6" r="2.7" fill="#dc143c"/>
<circle cx="187.9" cy="642.2" r="2.7" fill="#dc143c"/>
<circle cx="190.0" cy="641.3" r="2.7" fill="#dc143c"/>
<circle cx="194.1" cy="640.9" r="2.7" fill="#dc143c"/>
<circle cx="171.1" cy="648.3" r="2.7" fill="#dc143c"/>
<circle cx="166.2" cy="654.6" r="2.7" fill="#dc143c"/>
<circle cx="159.2" cy="656.4" r="2.7" fill="#dc143c"/>
<circle cx="132.8" cy="650.6" r="2.7" fill="#dc143c"/>
<circle cx="126.6" cy="655.3" r="2.7" fill="#dc143c"/>
<circle cx="110.3" cy="666.4" r="2.7" fill="#dc143c"/>
<circle cx="186.7" cy="656.4" r="2.7" fill="#dc143c"/>
<circle cx="199.0" cy="653.2" r="2.7" fill="#dc143c"/>
<circle cx="195.5" cy="660.9" r="2.7" fill="#dc143c"/>
<circle cx="211.2" cy="657.6" r="2.7" fill="#dc143c"/>
<circle cx="212.1" cy="661.1" r="2.7" fill="#dc143c"/>
<circle cx="167.4" cy="670.7" r="2.7" fill="#dc143c"/>
<circle cx="151.7" cy="672.1" r="2.7" fill="#dc143c"/>
<circle cx="214.0" cy="672.0" r="2.7" fill="#dc143c"/>
<circle cx="201.6" cy="677.2" r="2.7" fill="#dc143c"/>
<circle cx="176.2" cy="680.7" r="2.7" fill="#dc143c"/>
<circle cx="186.4" cy="683.5" r="2.7" fill="#dc143c"/>
<circle cx="189.0" cy="684.4" r="2.7" fill="#dc143c"/>
<circle cx="211.1" cy="683.9" r="2.7" fill="#dc143c"/>
<circle cx="141.7" cy="685.1" r="2.7" fill="#dc143c"/>
<circle cx="79.3" cy="573.2" r="2.7" fill="#dc143c"/>
<circle cx="164.2" cy="542.9" r="2.7" fill="#dc143c"/>
<circle cx="169.4" cy="568.6" r="2.7" fill="#dc143c"/>
<circle cx="122.6" cy="698.7" r="2.7" fill="#dc143c"/>
<circle cx="141.9" cy="714.3" r="2.7" fill="#dc143c"/>
<circle cx="197.6" cy="715.0" r="2.7" fill="#dc143c"/>
<circle cx="217.5" cy="718.2" r="2.7" fill="#dc143c"/>
<circle cx="212.8" cy="491.4" r="2.7" fill="#dc143c"/>
<circle cx="219.2" cy="505.6" r="2.7" fill="#dc143c"/>
<circle cx="258.8" cy="521.2" r="2.7" fill="#dc143c"/>
<circle cx="186.3" cy="531.7" r="2.7" fill="#dc143c"/>
<circle cx="228.5" cy="536.9" r="2.7" fill="#dc143c"/>
<circle cx="277.2" cy="540.4" r="2.7" fill="#dc143c"/>
<circle cx="279.0" cy="546.6" r="2.7" fill="#dc143c"/>
<circle cx="185.6" cy="550.2" r="2.7" fill="#dc143c"/>
<circle cx="208.6" cy="551.6" r="2.7" fill="#dc143c"/>
<circle cx="225.5" cy="551.5" r="2.7" fill="#dc143c"/>
<circle cx="186.3" cy="560.7" r="2.7" fill="#dc143c"/>
<circle cx="239.6" cy="554.4" r="2.7" fill="#dc143c"/>
<circle cx="249.5" cy="552.9" r="2.7" fill="#dc143c"/>
<circle cx="248.7" cy="556.0" r="2.7" fill="#dc143c"/>
<circle cx="289.5" cy="559.3" r="2.7" fill="#dc143c"/>
<circle cx="283.4" cy="560.6" r="2.7" fill="#dc143c"/>
<circle cx="283.4" cy="564.6" r="2.7" fill="#dc143c"/>
<circle cx="278.1" cy="567.9" r="2.7" fill="#dc143c"/>
<circle cx="247.6" cy="563.2" r="2.7" fill="#dc143c"/>
<circle cx="242.2" cy="567.4" r="2.7" fill="#dc143c"/>
<circle cx="235.7" cy="571.1" r="2.7" fill="#dc143c"/>
<circle cx="255.7" cy="570.4" r="2.7" fill="#dc143c"/>
<circle cx="265.3" cy="566.2" r="2.7" fill="#dc143c"/>
<circle cx="220.6" cy="576.5" r="2.7" fill="#dc143c"/>
<circle cx="232.6" cy="579.5" r="2.7" fill="#dc143c"/>
<circle cx="239.0" cy="580.4" r="2.7" fill="#dc143c"/>
<circle cx="251.8" cy="578.1" r="2.7" fill="#dc143c"/>
<circle cx="258.1" cy="578.6" r="2.7" fill="#dc143c"/>
<circle cx="266.2" cy="576.3" r="2.7" fill="#dc143c"/>
<circle cx="275.5" cy="574.4" r="2.7" fill="#dc143c"/>
<circle cx="285.3" cy="575.8" r="2.7" fill="#dc143c"/>
<circle cx="291.2" cy="571.6" r="2.7" fill="#dc143c"/>
<circle cx="292.1" cy="575.1" r="2.7" fill="#dc143c"/>
<circle cx="296.5" cy="576.9" r="2.7" fill="#dc143c"/>
<circle cx="274.6" cy="583.0" r="2.7" fill="#dc143c"/>
<circle cx="280.7" cy="582.1" r="2.7" fill="#dc143c"/>
<circle cx="285.1" cy="584.7" r="2.7" fill="#dc143c"/>
<circle cx="287.2" cy="585.6" r="2.7" fill="#dc143c"/>
<circle cx="296.5" cy="582.1" r="2.7" fill="#dc143c"/>
<circle cx="236.0" cy="590.6" r="2.7" fill="#dc143c"/>
<circle cx="251.8" cy="588.5" r="2.7" fill="#dc143c"/>
<circle cx="264.4" cy="591.4" r="2.7" fill="#dc143c"/>
<circle cx="268.1" cy="589.7" r="2.7" fill="#dc143c"/>
<circle cx="275.5" cy="591.4" r="2.7" fill="#dc143c"/>
<circle cx="276.1" cy="593.8" r="2.7" fill="#dc143c"/>
<circle cx="281.3" cy="592.6" r="2.7" fill="#dc143c"/>
<circle cx="288.3" cy="595.5" r="2.7" fill="#dc143c"/>
<circle cx="297.1" cy="592.6" r="2.7" fill="#dc143c"/>
<circle cx="242.4" cy="595.9" r="2.7" fill="#dc143c"/>
<circle cx="239.9" cy="599.2" r="2.7" fill="#dc143c"/>
<circle cx="244.5" cy="602.5" r="2.7" fill="#dc143c"/>
<circle cx="249.2" cy="604.6" r="2.7" fill="#dc143c"/>
<circle cx="239.9" cy="606.0" r="2.7" fill="#dc143c"/>
<circle cx="234.2" cy="605.4" r="2.7" fill="#dc143c"/>
<circle cx="268.1" cy="595.7" r="2.7" fill="#dc143c"/>
<circle cx="271.4" cy="599.0" r="2.7" fill="#dc143c"/>
<circle cx="266.7" cy="601.9" r="2.7" fill="#dc143c"/>
<circle cx="273.1" cy="603.7" r="2.7" fill="#dc143c"/>
<circle cx="261.5" cy="605.4" r="2.7" fill="#dc143c"/>
<circle cx="262.6" cy="608.4" r="2.7" fill="#dc143c"/>
<circle cx="275.5" cy="607.8" r="2.7" fill="#dc143c"/>
<circle cx="277.2" cy="612.4" r="2.7" fill="#dc143c"/>
<circle cx="292.1" cy="599.0" r="2.7" fill="#dc143c"/>
<circle cx="290.7" cy="601.9" r="2.7" fill="#dc143c"/>
<circle cx="286.0" cy="602.5" r="2.7" fill="#dc143c"/>
<circle cx="280.1" cy="604.3" r="2.7" fill="#dc143c"/>
<circle cx="283.6" cy="607.2" r="2.7" fill="#dc143c"/>
<circle cx="290.1" cy="609.5" r="2.7" fill="#dc143c"/>
<circle cx="286.6" cy="612.4" r="2.7" fill="#dc143c"/>
<circle cx="293.6" cy="613.6" r="2.7" fill="#dc143c"/>
<circle cx="297.1" cy="610.7" r="2.7" fill="#dc143c"/>
<circle cx="298.2" cy="614.8" r="2.7" fill="#dc143c"/>
<circle cx="288.9" cy="614.8" r="2.7" fill="#dc143c"/>
<circle cx="283.6" cy="616.5" r="2.7" fill="#dc143c"/>
<circle cx="280.7" cy="618.9" r="2.7" fill="#dc143c"/>
<circle cx="277.8" cy="617.7" r="2.7" fill="#dc143c"/>
<circle cx="278.4" cy="622.4" r="2.7" fill="#dc143c"/>
<circle cx="225.3" cy="608.1" r="2.7" fill="#dc143c"/>
<circle cx="230.3" cy="609.5" r="2.7" fill="#dc143c"/>
<circle cx="251.5" cy="610.7" r="2.7" fill="#dc143c"/>
<circle cx="248.0" cy="611.9" r="2.7" fill="#dc143c"/>
<circle cx="244.5" cy="613.0" r="2.7" fill="#dc143c"/>
<circle cx="241.0" cy="614.2" r="2.7" fill="#dc143c"/>
<circle cx="237.5" cy="615.4" r="2.7" fill="#dc143c"/>
<circle cx="234.0" cy="616.5" r="2.7" fill="#dc143c"/>
<circle cx="230.5" cy="617.7" r="2.7" fill="#dc143c"/>
<circle cx="234.6" cy="619.8" r="2.7" fill="#dc143c"/>
<circle cx="223.5" cy="615.1" r="2.7" fill="#dc143c"/>
<circle cx="246.3" cy="618.9" r="2.7" fill="#dc143c"/>
<circle cx="242.8" cy="620.6" r="2.7" fill="#dc143c"/>
<circle cx="262.6" cy="613.0" r="2.7" fill="#dc143c"/>
<circle cx="265.0" cy="615.4" r="2.7" fill="#dc143c"/>
<circle cx="266.1" cy="619.5" r="2.7" fill="#dc143c"/>
<circle cx="262.6" cy="623.5" r="2.7" fill="#dc143c"/>
<circle cx="267.3" cy="625.9" r="2.7" fill="#dc143c"/>
<circle cx="272.0" cy="628.2" r="2.7" fill="#dc143c"/>
<circle cx="275.5" cy="624.1" r="2.7" fill="#dc143c"/>
<circle cx="290.7" cy="623.5" r="2.7" fill="#dc143c"/>
<circle cx="287.7" cy="625.9" r="2.7" fill="#dc143c"/>
<circle cx="291.8" cy="626.5" r="2.7" fill="#dc143c"/>
<circle cx="296.5" cy="625.9" r="2.7" fill="#dc143c"/>
<circle cx="284.2" cy="628.8" r="2.7" fill="#dc143c"/>
<circle cx="281.9" cy="630.5" r="2.7" fill="#dc143c"/>
<circle cx="283.6" cy="634.6" r="2.7" fill="#dc143c"/>
<circle cx="289.5" cy="637.6" r="2.7" fill="#dc143c"/>
<circle cx="295.3" cy="637.0" r="2.7" fill="#dc143c"/>
<circle cx="297.1" cy="639.9" r="2.7" fill="#dc143c"/>
<circle cx="244.2" cy="627.0" r="2.7" fill="#dc143c"/>
<circle cx="221.8" cy="628.2" r="2.7" fill="#dc143c"/>
<circle cx="226.4" cy="630.0" r="2.7" fill="#dc143c"/>
<circle cx="223.5" cy="635.2" r="2.7" fill="#dc143c"/>
<circle cx="223.5" cy="641.1" r="2.7" fill="#dc143c"/>
<circle cx="235.8" cy="629.4" r="2.7" fill="#dc143c"/>
<circle cx="235.5" cy="633.1" r="2.7" fill="#dc143c"/>
<circle cx="233.1" cy="639.9" r="2.7" fill="#dc143c"/>
<circle cx="233.1" cy="642.8" r="2.7" fill="#dc143c"/>
<circle cx="248.0" cy="634.1" r="2.7" fill="#dc143c"/>
<circle cx="247.1" cy="638.7" r="2.7" fill="#dc143c"/>
<circle cx="241.0" cy="639.3" r="2.7" fill="#dc143c"/>
<circle cx="245.1" cy="642.2" r="2.7" fill="#dc143c"/>
<circle cx="249.8" cy="644.0" r="2.7" fill="#dc143c"/>
<circle cx="255.6" cy="643.0" r="2.7" fill="#dc143c"/>
<circle cx="268.5" cy="633.5" r="2.7" fill="#dc143c"/>
<circle cx="265.0" cy="635.5" r="2.7" fill="#dc143c"/>
<circle cx="269.6" cy="642.8" r="2.7" fill="#dc143c"/>
<circle cx="277.5" cy="639.9" r="2.7" fill="#dc143c"/>
<circle cx="263.8" cy="648.6" r="2.7" fill="#dc143c"/>
<circle cx="278.4" cy="650.4" r="2.7" fill="#dc143c"/>
<circle cx="284.0" cy="652.4" r="2.7" fill="#dc143c"/>
<circle cx="288.0" cy="654.1" r="2.7" fill="#dc143c"/>
<circle cx="296.8" cy="648.1" r="2.7" fill="#dc143c"/>
<circle cx="224.9" cy="654.5" r="2.7" fill="#dc143c"/>
<circle cx="235.5" cy="653.9" r="2.7" fill="#dc143c"/>
<circle cx="243.9" cy="653.7" r="2.7" fill="#dc143c"/>
<circle cx="250.6" cy="660.0" r="2.7" fill="#dc143c"/>
<circle cx="260.9" cy="658.0" r="2.7" fill="#dc143c"/>
<circle cx="264.1" cy="660.3" r="2.7" fill="#dc143c"/>
<circle cx="269.6" cy="658.0" r="2.7" fill="#dc143c"/>
<circle cx="271.4" cy="661.5" r="2.7" fill="#dc143c"/>
<circle cx="280.7" cy="659.7" r="2.7" fill="#dc143c"/>
<circle cx="284.2" cy="661.5" r="2.7" fill="#dc143c"/>
<circle cx="296.5" cy="659.2" r="2.7" fill="#dc143c"/>
<circle cx="222.3" cy="663.2" r="2.7" fill="#dc143c"/>
<circle cx="233.2" cy="663.0" r="2.7" fill="#dc143c"/>
<circle cx="231.3" cy="667.9" r="2.7" fill="#dc143c"/>
<circle cx="264.4" cy="670.3" r="2.7" fill="#dc143c"/>
<circle cx="251.5" cy="673.4" r="2.7" fill="#dc143c"/>
<circle cx="256.6" cy="673.6" r="2.7" fill="#dc143c"/>
<circle cx="273.1" cy="670.3" r="2.7" fill="#dc143c"/>
<circle cx="277.2" cy="670.3" r="2.7" fill="#dc143c"/>
<circle cx="281.9" cy="669.4" r="2.7" fill="#dc143c"/>
<circle cx="274.3" cy="673.2" r="2.7" fill="#dc143c"/>
<circle cx="280.1" cy="674.1" r="2.7" fill="#dc143c"/>
<circle cx="276.6" cy="679.6" r="2.7" fill="#dc143c"/>
<circle cx="292.1" cy="679.6" r="2.7" fill="#dc143c"/>
<circle cx="252.7" cy="683.1" r="2.7" fill="#dc143c"/>
<circle cx="247.4" cy="685.8" r="2.7" fill="#dc143c"/>
<circle cx="270.0" cy="685.8" r="2.7" fill="#dc143c"/>
<circle cx="283.1" cy="687.2" r="2.7" fill="#dc143c"/>
<circle cx="275.8" cy="689.5" r="2.7" fill="#dc143c"/>
<circle cx="273.1" cy="692.1" r="2.7" fill="#dc143c"/>
<circle cx="252.1" cy="690.7" r="2.7" fill="#dc143c"/>
<circle cx="255.4" cy="690.1" r="2.7" fill="#dc143c"/>
<circle cx="257.4" cy="695.0" r="2.7" fill="#dc143c"/>
<circle cx="229.9" cy="692.8" r="2.7" fill="#dc143c"/>
<circle cx="234.2" cy="695.9" r="2.7" fill="#dc143c"/>
<circle cx="240.1" cy="699.8" r="2.7" fill="#dc143c"/>
<circle cx="267.9" cy="695.9" r="2.7" fill="#dc143c"/>
<circle cx="268.1" cy="697.7" r="2.7" fill="#dc143c"/>
<circle cx="291.2" cy="693.0" r="2.7" fill="#dc143c"/>
<circle cx="297.7" cy="693.0" r="2.7" fill="#dc143c"/>
<circle cx="297.1" cy="699.5" r="2.7" fill="#dc143c"/>
<circle cx="235.5" cy="706.1" r="2.7" fill="#dc143c"/>
<circle cx="243.4" cy="706.3" r="2.7" fill="#dc143c"/>
<circle cx="286.6" cy="704.1" r="2.7" fill="#dc143c"/>
<circle cx="283.6" cy="709.4" r="2.7" fill="#dc143c"/>
<circle cx="281.3" cy="713.1" r="2.7" fill="#dc143c"/>
<circle cx="278.4" cy="718.4" r="2.7" fill="#dc143c"/>
<circle cx="267.3" cy="719.5" r="2.7" fill="#dc143c"/>
<circle cx="246.3" cy="723.0" r="2.7" fill="#dc143c"/>
<circle cx="223.7" cy="723.0" r="2.7" fill="#dc143c"/>
<circle cx="247.1" cy="742.7" r="2.7" fill="#dc143c"/>
<circle cx="313.5" cy="488.9" r="2.7" fill="#32cd32"/>
<circle cx="409.0" cy="484.7" r="2.7" fill="#32cd32"/>
<circle cx="390.2" cy="517.3" r="2.7" fill="#32cd32"/>
<circle cx="395.1" cy="525.5" r="2.7" fill="#32cd32"/>
<circle cx="326.6" cy="530.3" r="2.7" fill="#32cd32"/>
<circle cx="352.6" cy="531.7" r="2.7" fill="#32cd32"/>
<circle cx="353.4" cy="537.1" r="2.7" fill="#32cd32"/>
<circle cx="352.2" cy="540.6" r="2.7" fill="#32cd32"/>
<circle cx="356.1" cy="542.7" r="2.7" fill="#32cd32"/>
<circle cx="351.3" cy="544.8" r="2.7" fill="#32cd32"/>
<circle cx="366.7" cy="540.4" r="2.7" fill="#32cd32"/>
<circle cx="363.1" cy="546.4" r="2.7" fill="#32cd32"/>
<circle cx="315.4" cy="540.9" r="2.7" fill="#32cd32"/>
<circle cx="303.0" cy="544.1" r="2.7" fill="#32cd32"/>
<circle cx="411.9" cy="545.2" r="2.7" fill="#32cd32"/>
<circle cx="390.0" cy="546.6" r="2.7" fill="#32cd32"/>
<circle cx="318.4" cy="550.1" r="2.7" fill="#32cd32"/>
<circle cx="315.4" cy="552.0" r="2.7" fill="#32cd32"/>
<circle cx="309.3" cy="555.3" r="2.7" fill="#32cd32"/>
<circle cx="303.2" cy="553.6" r="2.7" fill="#32cd32"/>
<circle cx="336.3" cy="551.8" r="2.7" fill="#32cd32"/>
<circle cx="332.8" cy="558.1" r="2.7" fill="#32cd32"/>
<circle cx="338.2" cy="560.6" r="2.7" fill="#32cd32"/>
<circle cx="345.2" cy="555.3" r="2.7" fill="#32cd32"/>
<circle cx="345.5" cy="558.5" r="2.7" fill="#32cd32"/>
<circle cx="346.4" cy="562.8" r="2.7" fill="#32cd32"/>
<circle cx="346.9" cy="566.4" r="2.7" fill="#32cd32"/>
<circle cx="347.6" cy="570.7" r="2.7" fill="#32cd32"/>
<circle cx="350.3" cy="557.9" r="2.7" fill="#32cd32"/>
<circle cx="354.3" cy="559.3" r="2.7" fill="#32cd32"/>
<circle cx="356.6" cy="563.2" r="2.7" fill="#32cd32"/>
<circle cx="360.1" cy="559.3" r="2.7" fill="#32cd32"/>
<circle cx="363.1" cy="552.3" r="2.7" fill="#32cd32"/>
<circle cx="366.6" cy="557.6" r="2.7" fill="#32cd32"/>
<circle cx="368.3" cy="557.9" r="2.7" fill="#32cd32"/>
<circle cx="370.6" cy="549.2" r="2.7" fill="#32cd32"/>
<circle cx="372.7" cy="551.5" r="2.7" fill="#32cd32"/>
<circle cx="374.1" cy="554.1" r="2.7" fill="#32cd32"/>
<circle cx="379.7" cy="556.7" r="2.7" fill="#32cd32"/>
<circle cx="381.5" cy="561.4" r="2.7" fill="#32cd32"/>
<circle cx="385.7" cy="552.9" r="2.7" fill="#32cd32"/>
<circle cx="392.3" cy="559.3" r="2.7" fill="#32cd32"/>
<circle cx="392.3" cy="563.7" r="2.7" fill="#32cd32"/>
<circle cx="319.6" cy="560.2" r="2.7" fill="#32cd32"/>
<circle cx="307.0" cy="563.4" r="2.7" fill="#32cd32"/>
<circle cx="304.4" cy="566.4" r="2.7" fill="#32cd32"/>
<circle cx="303.9" cy="570.4" r="2.7" fill="#32cd32"/>
<circle cx="312.8" cy="568.1" r="2.7" fill="#32cd32"/>
<circle cx="320.7" cy="570.4" r="2.7" fill="#32cd32"/>
<circle cx="325.8" cy="573.7" r="2.7" fill="#32cd32"/>
<circle cx="396.0" cy="570.2" r="2.7" fill="#32cd32"/>
<circle cx="371.8" cy="571.1" r="2.7" fill="#32cd32"/>
<circle cx="355.7" cy="572.8" r="2.7" fill="#32cd32"/>
<circle cx="345.0" cy="575.6" r="2.7" fill="#32cd32"/>
<circle cx="314.0" cy="574.8" r="2.7" fill="#32cd32"/>
<circle cx="309.6" cy="577.2" r="2.7" fill="#32cd32"/>
<circle cx="306.1" cy="579.5" r="2.7" fill="#32cd32"/>
<circle cx="303.5" cy="582.1" r="2.7" fill="#32cd32"/>
<circle cx="312.3" cy="582.1" r="2.7" fill="#32cd32"/>
<circle cx="314.0" cy="584.7" r="2.7" fill="#32cd32"/>
<circle cx="317.5" cy="584.7" r="2.7" fill="#32cd32"/>
<circle cx="323.6" cy="580.7" r="2.7" fill="#32cd32"/>
<circle cx="326.3" cy="583.9" r="2.7" fill="#32cd32"/>
<circle cx="328.9" cy="586.5" r="2.7" fill="#32cd32"/>
<circle cx="335.0" cy="586.5" r="2.7" fill="#32cd32"/>
<circle cx="318.4" cy="582.1" r="2.7" fill="#32cd32"/>
<circle cx="363.9" cy="577.2" r="2.7" fill="#32cd32"/>
<circle cx="366.6" cy="576.0" r="2.7" fill="#32cd32"/>
<circle cx="368.3" cy="579.5" r="2.7" fill="#32cd32"/>
<circle cx="370.9" cy="581.2" r="2.7" fill="#32cd32"/>
<circle cx="371.8" cy="586.0" r="2.7" fill="#32cd32"/>
<circle cx="354.3" cy="581.2" r="2.7" fill="#32cd32"/>
<circle cx="356.9" cy="583.0" r="2.7" fill="#32cd32"/>
<circle cx="359.6" cy="583.9" r="2.7" fill="#32cd32"/>
<circle cx="355.2" cy="585.6" r="2.7" fill="#32cd32"/>
<circle cx="377.1" cy="581.2" r="2.7" fill="#32cd32"/>
<circle cx="380.6" cy="577.7" r="2.7" fill="#32cd32"/>
<circle cx="384.1" cy="576.9" r="2.7" fill="#32cd32"/>
<circle cx="384.1" cy="583.9" r="2.7" fill="#32cd32"/>
<circle cx="389.3" cy="579.5" r="2.7" fill="#32cd32"/>
<circle cx="393.7" cy="576.0" r="2.7" fill="#32cd32"/>
<circle cx="405.1" cy="580.7" r="2.7" fill="#32cd32"/>
<circle cx="406.9" cy="583.0" r="2.7" fill="#32cd32"/>
<circle cx="401.6" cy="584.7" r="2.7" fill="#32cd32"/>
<circle cx="403.4" cy="587.4" r="2.7" fill="#32cd32"/>
<circle cx="345.5" cy="587.4" r="2.7" fill="#32cd32"/>
<circle cx="314.0" cy="586.8" r="2.7" fill="#32cd32"/>
<circle cx="367.2" cy="590.8" r="2.7" fill="#32cd32"/>
<circle cx="374.7" cy="591.4" r="2.7" fill="#32cd32"/>
<circle cx="347.9" cy="590.8" r="2.7" fill="#32cd32"/>
<circle cx="350.2" cy="593.2" r="2.7" fill="#32cd32"/>
<circle cx="346.1" cy="595.5" r="2.7" fill="#32cd32"/>
<circle cx="336.8" cy="593.2" r="2.7" fill="#32cd32"/>
<circle cx="335.0" cy="595.5" r="2.7" fill="#32cd32"/>
<circle cx="357.2" cy="593.2" r="2.7" fill="#32cd32"/>
<circle cx="363.1" cy="595.5" r="2.7" fill="#32cd32"/>
<circle cx="367.7" cy="596.7" r="2.7" fill="#32cd32"/>
<circle cx="376.5" cy="600.2" r="2.7" fill="#32cd32"/>
<circle cx="323.9" cy="595.5" r="2.7" fill="#32cd32"/>
<circle cx="326.9" cy="597.3" r="2.7" fill="#32cd32"/>
<circle cx="330.4" cy="597.8" r="2.7" fill="#32cd32"/>
<circle cx="322.8" cy="600.2" r="2.7" fill="#32cd32"/>
<circle cx="318.1" cy="600.2" r="2.7" fill="#32cd32"/>
<circle cx="326.9" cy="601.9" r="2.7" fill="#32cd32"/>
<circle cx="330.4" cy="602.5" r="2.7" fill="#32cd32"/>
<circle cx="343.2" cy="599.6" r="2.7" fill="#32cd32"/>
<circle cx="340.9" cy="603.1" r="2.7" fill="#32cd32"/>
<circle cx="354.3" cy="599.6" r="2.7" fill="#32cd32"/>
<circle cx="303.5" cy="600.2" r="2.7" fill="#32cd32"/>
<circle cx="307.6" cy="604.9" r="2.7" fill="#32cd32"/>
<circle cx="302.3" cy="603.7" r="2.7" fill="#32cd32"/>
<circle cx="314.0" cy="610.1" r="2.7" fill="#32cd32"/>
<circle cx="338.0" cy="607.2" r="2.7" fill="#32cd32"/>
<circle cx="339.7" cy="604.9" r="2.7" fill="#32cd32"/>
<circle cx="364.8" cy="604.3" r="2.7" fill="#32cd32"/>
<circle cx="370.1" cy="605.4" r="2.7" fill="#32cd32"/>
<circle cx="373.6" cy="603.7" r="2.7" fill="#32cd32"/>
<circle cx="361.3" cy="607.8" r="2.7" fill="#32cd32"/>
<circle cx="357.8" cy="609.5" r="2.7" fill="#32cd32"/>
<circle cx="366.6" cy="608.4" r="2.7" fill="#32cd32"/>
<circle cx="371.8" cy="607.8" r="2.7" fill="#32cd32"/>
<circle cx="323.4" cy="608.4" r="2.7" fill="#32cd32"/>
<circle cx="326.9" cy="610.1" r="2.7" fill="#32cd32"/>
<circle cx="321.0" cy="612.4" r="2.7" fill="#32cd32"/>
<circle cx="329.8" cy="613.0" r="2.7" fill="#32cd32"/>
<circle cx="333.9" cy="614.8" r="2.7" fill="#32cd32"/>
<circle cx="337.4" cy="613.6" r="2.7" fill="#32cd32"/>
<circle cx="341.5" cy="614.8" r="2.7" fill="#32cd32"/>
<circle cx="345.0" cy="614.2" r="2.7" fill="#32cd32"/>
<circle cx="353.1" cy="612.7" r="2.7" fill="#32cd32"/>
<circle cx="363.1" cy="612.4" r="2.7" fill="#32cd32"/>
<circle cx="367.2" cy="615.4" r="2.7" fill="#32cd32"/>
<circle cx="359.6" cy="615.4" r="2.7" fill="#32cd32"/>
<circle cx="375.9" cy="613.0" r="2.7" fill="#32cd32"/>
<circle cx="374.7" cy="618.3" r="2.7" fill="#32cd32"/>
<circle cx="302.9" cy="615.4" r="2.7" fill="#32cd32"/>
<circle cx="303.5" cy="620.6" r="2.7" fill="#32cd32"/>
<circle cx="312.3" cy="621.8" r="2.7" fill="#32cd32"/>
<circle cx="321.0" cy="618.9" r="2.7" fill="#32cd32"/>
<circle cx="319.3" cy="622.4" r="2.7" fill="#32cd32"/>
<circle cx="325.7" cy="621.2" r="2.7" fill="#32cd32"/>
<circle cx="332.7" cy="618.3" r="2.7" fill="#32cd32"/>
<circle cx="336.2" cy="618.9" r="2.7" fill="#32cd32"/>
<circle cx="334.5" cy="622.4" r="2.7" fill="#32cd32"/>
<circle cx="330.9" cy="624.1" r="2.7" fill="#32cd32"/>
<circle cx="339.7" cy="624.7" r="2.7" fill="#32cd32"/>
<circle cx="357.2" cy="618.3" r="2.7" fill="#32cd32"/>
<circle cx="354.9" cy="621.2" r="2.7" fill="#32cd32"/>
<circle cx="350.8" cy="624.1" r="2.7" fill="#32cd32"/>
<circle cx="364.8" cy="622.4" r="2.7" fill="#32cd32"/>
<circle cx="368.9" cy="623.0" r="2.7" fill="#32cd32"/>
<circle cx="371.8" cy="625.3" r="2.7" fill="#32cd32"/>
<circle cx="377.1" cy="625.3" r="2.7" fill="#32cd32"/>
<circle cx="317.5" cy="628.2" r="2.7" fill="#32cd32"/>
<circle cx="323.4" cy="630.0" r="2.7" fill="#32cd32"/>
<circle cx="321.0" cy="632.3" r="2.7" fill="#32cd32"/>
<circle cx="326.9" cy="626.5" r="2.7" fill="#32cd32"/>
<circle cx="330.9" cy="633.5" r="2.7" fill="#32cd32"/>
<circle cx="338.0" cy="629.4" r="2.7" fill="#32cd32"/>
<circle cx="338.5" cy="632.9" r="2.7" fill="#32cd32"/>
<circle cx="346.7" cy="630.5" r="2.7" fill="#32cd32"/>
<circle cx="349.1" cy="628.8" r="2.7" fill="#32cd32"/>
<circle cx="357.8" cy="627.0" r="2.7" fill="#32cd32"/>
<circle cx="356.6" cy="632.9" r="2.7" fill="#32cd32"/>
<circle cx="353.7" cy="635.2" r="2.7" fill="#32cd32"/>
<circle cx="311.7" cy="634.6" r="2.7" fill="#32cd32"/>
<circle cx="314.6" cy="635.2" r="2.7" fill="#32cd32"/>
<circle cx="318.7" cy="635.2" r="2.7" fill="#32cd32"/>
<circle cx="325.1" cy="636.4" r="2.7" fill="#32cd32"/>
<circle cx="337.4" cy="636.4" r="2.7" fill="#32cd32"/>
<circle cx="340.3" cy="639.3" r="2.7" fill="#32cd32"/>
<circle cx="344.4" cy="639.9" r="2.7" fill="#32cd32"/>
<circle cx="347.3" cy="640.5" r="2.7" fill="#32cd32"/>
<circle cx="353.1" cy="638.7" r="2.7" fill="#32cd32"/>
<circle cx="366.0" cy="635.8" r="2.7" fill="#32cd32"/>
<circle cx="370.1" cy="634.1" r="2.7" fill="#32cd32"/>
<circle cx="363.6" cy="639.3" r="2.7" fill="#32cd32"/>
<circle cx="360.7" cy="642.2" r="2.7" fill="#32cd32"/>
<circle cx="368.9" cy="642.2" r="2.7" fill="#32cd32"/>
<circle cx="373.6" cy="642.2" r="2.7" fill="#32cd32"/>
<circle cx="305.3" cy="644.0" r="2.7" fill="#32cd32"/>
<circle cx="314.0" cy="641.6" r="2.7" fill="#32cd32"/>
<circle cx="318.7" cy="641.6" r="2.7" fill="#32cd32"/>
<circle cx="322.8" cy="641.6" r="2.7" fill="#32cd32"/>
<circle cx="339.7" cy="644.0" r="2.7" fill="#32cd32"/>
<circle cx="349.1" cy="644.6" r="2.7" fill="#32cd32"/>
<circle cx="351.4" cy="645.7" r="2.7" fill="#32cd32"/>
<circle cx="353.7" cy="648.1" r="2.7" fill="#32cd32"/>
<circle cx="360.1" cy="644.6" r="2.7" fill="#32cd32"/>
<circle cx="330.9" cy="644.6" r="2.7" fill="#32cd32"/>
<circle cx="329.2" cy="648.1" r="2.7" fill="#32cd32"/>
<circle cx="378.2" cy="645.1" r="2.7" fill="#32cd32"/>
<circle cx="308.2" cy="648.1" r="2.7" fill="#32cd32"/>
<circle cx="310.5" cy="651.6" r="2.7" fill="#32cd32"/>
<circle cx="315.2" cy="647.5" r="2.7" fill="#32cd32"/>
<circle cx="316.9" cy="649.8" r="2.7" fill="#32cd32"/>
<circle cx="323.9" cy="649.8" r="2.7" fill="#32cd32"/>
<circle cx="327.4" cy="652.7" r="2.7" fill="#32cd32"/>
<circle cx="318.1" cy="655.1" r="2.7" fill="#32cd32"/>
<circle cx="339.1" cy="652.7" r="2.7" fill="#32cd32"/>
<circle cx="333.9" cy="655.7" r="2.7" fill="#32cd32"/>
<circle cx="325.7" cy="656.2" r="2.7" fill="#32cd32"/>
<circle cx="322.8" cy="659.2" r="2.7" fill="#32cd32"/>
<circle cx="375.3" cy="650.4" r="2.7" fill="#32cd32"/>
<circle cx="302.9" cy="660.3" r="2.7" fill="#32cd32"/>
<circle cx="335.0" cy="661.5" r="2.7" fill="#32cd32"/>
<circle cx="338.0" cy="659.7" r="2.7" fill="#32cd32"/>
<circle cx="342.0" cy="660.9" r="2.7" fill="#32cd32"/>
<circle cx="346.7" cy="661.5" r="2.7" fill="#32cd32"/>
<circle cx="350.2" cy="660.9" r="2.7" fill="#32cd32"/>
<circle cx="353.7" cy="659.7" r="2.7" fill="#32cd32"/>
<circle cx="358.4" cy="661.5" r="2.7" fill="#32cd32"/>
<circle cx="363.6" cy="659.7" r="2.7" fill="#32cd32"/>
<circle cx="374.2" cy="658.6" r="2.7" fill="#32cd32"/>
<circle cx="371.2" cy="661.5" r="2.7" fill="#32cd32"/>
<circle cx="377.1" cy="660.3" r="2.7" fill="#32cd32"/>
<circle cx="318.7" cy="667.3" r="2.7" fill="#32cd32"/>
<circle cx="336.2" cy="669.7" r="2.7" fill="#32cd32"/>
<circle cx="325.7" cy="669.1" r="2.7" fill="#32cd32"/>
<circle cx="367.7" cy="666.8" r="2.7" fill="#32cd32"/>
<circle cx="311.7" cy="673.4" r="2.7" fill="#32cd32"/>
<circle cx="314.4" cy="674.0" r="2.7" fill="#32cd32"/>
<circle cx="322.4" cy="673.4" r="2.7" fill="#32cd32"/>
<circle cx="332.7" cy="673.4" r="2.7" fill="#32cd32"/>
<circle cx="332.7" cy="676.4" r="2.7" fill="#32cd32"/>
<circle cx="337.4" cy="674.3" r="2.7" fill="#32cd32"/>
<circle cx="340.3" cy="676.7" r="2.7" fill="#32cd32"/>
<circle cx="345.0" cy="671.4" r="2.7" fill="#32cd32"/>
<circle cx="352.0" cy="673.4" r="2.7" fill="#32cd32"/>
<circle cx="361.9" cy="672.9" r="2.7" fill="#32cd32"/>
<circle cx="373.6" cy="673.2" r="2.7" fill="#32cd32"/>
<circle cx="373.3" cy="676.1" r="2.7" fill="#32cd32"/>
<circle cx="302.3" cy="676.7" r="2.7" fill="#32cd32"/>
<circle cx="306.4" cy="680.2" r="2.7" fill="#32cd32"/>
<circle cx="326.9" cy="679.6" r="2.7" fill="#32cd32"/>
<circle cx="318.7" cy="682.3" r="2.7" fill="#32cd32"/>
<circle cx="320.4" cy="682.3" r="2.7" fill="#32cd32"/>
<circle cx="335.3" cy="682.2" r="2.7" fill="#32cd32"/>
<circle cx="344.4" cy="680.8" r="2.7" fill="#32cd32"/>
<circle cx="347.3" cy="682.5" r="2.7" fill="#32cd32"/>
<circle cx="358.4" cy="678.4" r="2.7" fill="#32cd32"/>
<circle cx="365.4" cy="679.0" r="2.7" fill="#32cd32"/>
<circle cx="360.5" cy="683.3" r="2.7" fill="#32cd32"/>
<circle cx="302.9" cy="686.6" r="2.7" fill="#32cd32"/>
<circle cx="302.9" cy="688.9" r="2.7" fill="#32cd32"/>
<circle cx="331.9" cy="686.8" r="2.7" fill="#32cd32"/>
<circle cx="332.7" cy="689.2" r="2.7" fill="#32cd32"/>
<circle cx="342.0" cy="689.3" r="2.7" fill="#32cd32"/>
<circle cx="358.4" cy="689.2" r="2.7" fill="#32cd32"/>
<circle cx="373.3" cy="687.8" r="2.7" fill="#32cd32"/>
<circle cx="369.5" cy="692.2" r="2.7" fill="#32cd32"/>
<circle cx="321.0" cy="692.1" r="2.7" fill="#32cd32"/>
<circle cx="319.3" cy="695.0" r="2.7" fill="#32cd32"/>
<circle cx="313.8" cy="694.4" r="2.7" fill="#32cd32"/>
<circle cx="355.8" cy="694.5" r="2.7" fill="#32cd32"/>
<circle cx="358.7" cy="695.4" r="2.7" fill="#32cd32"/>
<circle cx="310.3" cy="699.8" r="2.7" fill="#32cd32"/>
<circle cx="334.5" cy="699.2" r="2.7" fill="#32cd32"/>
<circle cx="339.4" cy="699.2" r="2.7" fill="#32cd32"/>
<circle cx="339.4" cy="701.6" r="2.7" fill="#32cd32"/>
<circle cx="377.9" cy="703.9" r="2.7" fill="#32cd32"/>
<circle cx="325.5" cy="704.1" r="2.7" fill="#32cd32"/>
<circle cx="331.3" cy="705.6" r="2.7" fill="#32cd32"/>
<circle cx="328.0" cy="708.2" r="2.7" fill="#32cd32"/>
<circle cx="326.3" cy="711.7" r="2.7" fill="#32cd32"/>
<circle cx="314.0" cy="709.4" r="2.7" fill="#32cd32"/>
<circle cx="319.5" cy="713.5" r="2.7" fill="#32cd32"/>
<circle cx="336.4" cy="714.3" r="2.7" fill="#32cd32"/>
<circle cx="349.1" cy="712.3" r="2.7" fill="#32cd32"/>
<circle cx="359.3" cy="717.0" r="2.7" fill="#32cd32"/>
<circle cx="359.6" cy="719.0" r="2.7" fill="#32cd32"/>
<circle cx="373.6" cy="715.5" r="2.7" fill="#32cd32"/>
<circle cx="322.5" cy="722.8" r="2.7" fill="#32cd32"/>
<circle cx="339.4" cy="723.7" r="2.7" fill="#32cd32"/>
<circle cx="334.8" cy="729.0" r="2.7" fill="#32cd32"/>
<circle cx="328.8" cy="731.2" r="2.7" fill="#32cd32"/>
<circle cx="311.4" cy="731.8" r="2.7" fill="#32cd32"/>
<circle cx="312.6" cy="737.6" r="2.7" fill="#32cd32"/>
<circle cx="395.2" cy="589.1" r="2.7" fill="#32cd32"/>
<circle cx="399.3" cy="587.9" r="2.7" fill="#32cd32"/>
<circle cx="405.1" cy="589.1" r="2.7" fill="#32cd32"/>
<circle cx="413.9" cy="591.4" r="2.7" fill="#32cd32"/>
<circle cx="438.4" cy="590.3" r="2.7" fill="#32cd32"/>
<circle cx="395.8" cy="593.8" r="2.7" fill="#32cd32"/>
<circle cx="405.1" cy="594.9" r="2.7" fill="#32cd32"/>
<circle cx="409.2" cy="595.5" r="2.7" fill="#32cd32"/>
<circle cx="408.0" cy="599.6" r="2.7" fill="#32cd32"/>
<circle cx="423.2" cy="596.7" r="2.7" fill="#32cd32"/>
<circle cx="423.8" cy="601.4" r="2.7" fill="#32cd32"/>
<circle cx="419.7" cy="601.9" r="2.7" fill="#32cd32"/>
<circle cx="443.6" cy="594.3" r="2.7" fill="#32cd32"/>
<circle cx="442.5" cy="597.3" r="2.7" fill="#32cd32"/>
<circle cx="437.2" cy="598.4" r="2.7" fill="#32cd32"/>
<circle cx="434.3" cy="601.4" r="2.7" fill="#32cd32"/>
<circle cx="437.8" cy="603.7" r="2.7" fill="#32cd32"/>
<circle cx="452.4" cy="596.1" r="2.7" fill="#32cd32"/>
<circle cx="455.9" cy="599.6" r="2.7" fill="#32cd32"/>
<circle cx="457.7" cy="603.1" r="2.7" fill="#32cd32"/>
<circle cx="383.5" cy="602.5" r="2.7" fill="#32cd32"/>
<circle cx="387.0" cy="606.6" r="2.7" fill="#32cd32"/>
<circle cx="381.8" cy="608.4" r="2.7" fill="#32cd32"/>
<circle cx="391.7" cy="607.8" r="2.7" fill="#32cd32"/>
<circle cx="396.4" cy="603.1" r="2.7" fill="#32cd32"/>
<circle cx="399.3" cy="606.0" r="2.7" fill="#32cd32"/>
<circle cx="402.8" cy="608.4" r="2.7" fill="#32cd32"/>
<circle cx="406.9" cy="606.0" r="2.7" fill="#32cd32"/>
<circle cx="417.4" cy="607.8" r="2.7" fill="#32cd32"/>
<circle cx="429.6" cy="607.2" r="2.7" fill="#32cd32"/>
<circle cx="449.7" cy="607.0" r="2.7" fill="#32cd32"/>
<circle cx="386.4" cy="612.4" r="2.7" fill="#32cd32"/>
<circle cx="385.3" cy="614.8" r="2.7" fill="#32cd32"/>
<circle cx="404.5" cy="612.4" r="2.7" fill="#32cd32"/>
<circle cx="408.0" cy="614.2" r="2.7" fill="#32cd32"/>
<circle cx="401.0" cy="617.1" r="2.7" fill="#32cd32"/>
<circle cx="406.3" cy="618.3" r="2.7" fill="#32cd32"/>
<circle cx="413.3" cy="613.6" r="2.7" fill="#32cd32"/>
<circle cx="416.2" cy="616.5" r="2.7" fill="#32cd32"/>
<circle cx="420.9" cy="612.4" r="2.7" fill="#32cd32"/>
<circle cx="421.5" cy="614.8" r="2.7" fill="#32cd32"/>
<circle cx="434.3" cy="613.0" r="2.7" fill="#32cd32"/>
<circle cx="440.7" cy="613.0" r="2.7" fill="#32cd32"/>
<circle cx="443.6" cy="616.5" r="2.7" fill="#32cd32"/>
<circle cx="446.6" cy="619.5" r="2.7" fill="#32cd32"/>
<circle cx="458.2" cy="614.8" r="2.7" fill="#32cd32"/>
<circle cx="381.8" cy="620.6" r="2.7" fill="#32cd32"/>
<circle cx="385.8" cy="620.0" r="2.7" fill="#32cd32"/>
<circle cx="383.5" cy="623.5" r="2.7" fill="#32cd32"/>
<circle cx="392.8" cy="618.3" r="2.7" fill="#32cd32"/>
<circle cx="394.6" cy="621.2" r="2.7" fill="#32cd32"/>
<circle cx="397.5" cy="622.4" r="2.7" fill="#32cd32"/>
<circle cx="410.4" cy="620.6" r="2.7" fill="#32cd32"/>
<circle cx="426.1" cy="617.7" r="2.7" fill="#32cd32"/>
<circle cx="429.6" cy="616.5" r="2.7" fill="#32cd32"/>
<circle cx="427.3" cy="620.6" r="2.7" fill="#32cd32"/>
<circle cx="423.2" cy="620.0" r="2.7" fill="#32cd32"/>
<circle cx="420.3" cy="623.0" r="2.7" fill="#32cd32"/>
<circle cx="431.4" cy="623.0" r="2.7" fill="#32cd32"/>
<circle cx="437.8" cy="620.6" r="2.7" fill="#32cd32"/>
<circle cx="438.4" cy="625.3" r="2.7" fill="#32cd32"/>
<circle cx="442.5" cy="624.7" r="2.7" fill="#32cd32"/>
<circle cx="454.7" cy="620.6" r="2.7" fill="#32cd32"/>
<circle cx="451.2" cy="625.9" r="2.7" fill="#32cd32"/>
<circle cx="405.1" cy="625.3" r="2.7" fill="#32cd32"/>
<circle cx="415.0" cy="625.9" r="2.7" fill="#32cd32"/>
<circle cx="421.5" cy="626.5" r="2.7" fill="#32cd32"/>
<circle cx="406.3" cy="630.0" r="2.7" fill="#32cd32"/>
<circle cx="415.0" cy="629.4" r="2.7" fill="#32cd32"/>
<circle cx="436.1" cy="628.8" r="2.7" fill="#32cd32"/>
<circle cx="445.4" cy="629.4" r="2.7" fill="#32cd32"/>
<circle cx="457.1" cy="630.0" r="2.7" fill="#32cd32"/>
<circle cx="454.2" cy="631.7" r="2.7" fill="#32cd32"/>
<circle cx="384.1" cy="631.7" r="2.7" fill="#32cd32"/>
<circle cx="390.5" cy="631.7" r="2.7" fill="#32cd32"/>
<circle cx="394.0" cy="629.4" r="2.7" fill="#32cd32"/>
<circle cx="398.1" cy="630.0" r="2.7" fill="#32cd32"/>
<circle cx="401.0" cy="632.9" r="2.7" fill="#32cd32"/>
<circle cx="405.1" cy="634.1" r="2.7" fill="#32cd32"/>
<circle cx="412.1" cy="634.1" r="2.7" fill="#32cd32"/>
<circle cx="423.2" cy="635.8" r="2.7" fill="#32cd32"/>
<circle cx="431.4" cy="632.9" r="2.7" fill="#32cd32"/>
<circle cx="431.4" cy="636.4" r="2.7" fill="#32cd32"/>
<circle cx="430.8" cy="638.7" r="2.7" fill="#32cd32"/>
<circle cx="437.2" cy="638.1" r="2.7" fill="#32cd32"/>
<circle cx="443.1" cy="637.0" r="2.7" fill="#32cd32"/>
<circle cx="446.6" cy="635.8" r="2.7" fill="#32cd32"/>
<circle cx="451.2" cy="636.4" r="2.7" fill="#32cd32"/>
<circle cx="453.0" cy="638.7" r="2.7" fill="#32cd32"/>
<circle cx="448.9" cy="642.2" r="2.7" fill="#32cd32"/>
<circle cx="381.8" cy="639.3" r="2.7" fill="#32cd32"/>
<circle cx="386.4" cy="636.4" r="2.7" fill="#32cd32"/>
<circle cx="388.8" cy="641.1" r="2.7" fill="#32cd32"/>
<circle cx="391.7" cy="640.5" r="2.7" fill="#32cd32"/>
<circle cx="398.7" cy="639.9" r="2.7" fill="#32cd32"/>
<circle cx="407.4" cy="638.1" r="2.7" fill="#32cd32"/>
<circle cx="413.3" cy="638.7" r="2.7" fill="#32cd32"/>
<circle cx="420.3" cy="639.3" r="2.7" fill="#32cd32"/>
<circle cx="405.1" cy="643.4" r="2.7" fill="#32cd32"/>
<circle cx="408.6" cy="641.6" r="2.7" fill="#32cd32"/>
<circle cx="416.8" cy="643.4" r="2.7" fill="#32cd32"/>
<circle cx="426.7" cy="644.0" r="2.7" fill="#32cd32"/>
<circle cx="384.7" cy="645.7" r="2.7" fill="#32cd32"/>
<circle cx="391.7" cy="644.6" r="2.7" fill="#32cd32"/>
<circle cx="397.5" cy="645.7" r="2.7" fill="#32cd32"/>
<circle cx="387.6" cy="649.8" r="2.7" fill="#32cd32"/>
<circle cx="394.0" cy="649.8" r="2.7" fill="#32cd32"/>
<circle cx="419.1" cy="646.9" r="2.7" fill="#32cd32"/>
<circle cx="421.5" cy="648.1" r="2.7" fill="#32cd32"/>
<circle cx="436.1" cy="648.6" r="2.7" fill="#32cd32"/>
<circle cx="440.1" cy="646.9" r="2.7" fill="#32cd32"/>
<circle cx="444.2" cy="648.1" r="2.7" fill="#32cd32"/>
<circle cx="381.8" cy="653.3" r="2.7" fill="#32cd32"/>
<circle cx="387.6" cy="655.1" r="2.7" fill="#32cd32"/>
<circle cx="396.4" cy="653.3" r="2.7" fill="#32cd32"/>
<circle cx="391.7" cy="659.2" r="2.7" fill="#32cd32"/>
<circle cx="387.6" cy="659.7" r="2.7" fill="#32cd32"/>
<circle cx="398.1" cy="657.4" r="2.7" fill="#32cd32"/>
<circle cx="406.9" cy="652.7" r="2.7" fill="#32cd32"/>
<circle cx="409.8" cy="653.9" r="2.7" fill="#32cd32"/>
<circle cx="413.3" cy="652.2" r="2.7" fill="#32cd32"/>
<circle cx="406.3" cy="656.8" r="2.7" fill="#32cd32"/>
<circle cx="421.5" cy="656.2" r="2.7" fill="#32cd32"/>
<circle cx="434.3" cy="655.9" r="2.7" fill="#32cd32"/>
<circle cx="409.2" cy="659.7" r="2.7" fill="#32cd32"/>
<circle cx="412.7" cy="660.9" r="2.7" fill="#32cd32"/>
<circle cx="405.7" cy="663.2" r="2.7" fill="#32cd32"/>
<circle cx="426.7" cy="663.2" r="2.7" fill="#32cd32"/>
<circle cx="396.9" cy="666.8" r="2.7" fill="#32cd32"/>
<circle cx="431.4" cy="666.8" r="2.7" fill="#32cd32"/>
<circle cx="447.7" cy="666.8" r="2.7" fill="#32cd32"/>
<circle cx="448.9" cy="669.7" r="2.7" fill="#32cd32"/>
<circle cx="456.5" cy="669.1" r="2.7" fill="#32cd32"/>
<circle cx="389.9" cy="670.3" r="2.7" fill="#32cd32"/>
<circle cx="391.3" cy="673.8" r="2.7" fill="#32cd32"/>
<circle cx="407.4" cy="672.2" r="2.7" fill="#32cd32"/>
<circle cx="399.3" cy="673.2" r="2.7" fill="#32cd32"/>
<circle cx="398.1" cy="675.5" r="2.7" fill="#32cd32"/>
<circle cx="401.0" cy="676.7" r="2.7" fill="#32cd32"/>
<circle cx="385.3" cy="682.5" r="2.7" fill="#32cd32"/>
<circle cx="382.9" cy="686.6" r="2.7" fill="#32cd32"/>
<circle cx="386.4" cy="686.6" r="2.7" fill="#32cd32"/>
<circle cx="384.7" cy="690.1" r="2.7" fill="#32cd32"/>
<circle cx="394.6" cy="680.2" r="2.7" fill="#32cd32"/>
<circle cx="398.1" cy="681.9" r="2.7" fill="#32cd32"/>
<circle cx="396.7" cy="687.2" r="2.7" fill="#32cd32"/>
<circle cx="410.1" cy="680.8" r="2.7" fill="#32cd32"/>
<circle cx="420.9" cy="677.3" r="2.7" fill="#32cd32"/>
<circle cx="420.9" cy="681.4" r="2.7" fill="#32cd32"/>
<circle cx="423.8" cy="683.7" r="2.7" fill="#32cd32"/>
<circle cx="418.0" cy="685.4" r="2.7" fill="#32cd32"/>
<circle cx="413.3" cy="686.6" r="2.7" fill="#32cd32"/>
<circle cx="416.2" cy="686.6" r="2.7" fill="#32cd32"/>
<circle cx="402.2" cy="686.6" r="2.7" fill="#32cd32"/>
<circle cx="405.9" cy="686.0" r="2.7" fill="#32cd32"/>
<circle cx="404.2" cy="690.7" r="2.7" fill="#32cd32"/>
<circle cx="429.6" cy="678.4" r="2.7" fill="#32cd32"/>
<circle cx="437.2" cy="677.0" r="2.7" fill="#32cd32"/>
<circle cx="443.1" cy="679.9" r="2.7" fill="#32cd32"/>
<circle cx="449.7" cy="681.4" r="2.7" fill="#32cd32"/>
<circle cx="451.1" cy="687.0" r="2.7" fill="#32cd32"/>
<circle cx="387.9" cy="694.2" r="2.7" fill="#32cd32"/>
<circle cx="391.3" cy="693.0" r="2.7" fill="#32cd32"/>
<circle cx="394.2" cy="693.6" r="2.7" fill="#32cd32"/>
<circle cx="435.8" cy="691.3" r="2.7" fill="#32cd32"/>
<circle cx="437.8" cy="696.8" r="2.7" fill="#32cd32"/>
<circle cx="416.4" cy="695.4" r="2.7" fill="#32cd32"/>
<circle cx="419.9" cy="695.9" r="2.7" fill="#32cd32"/>
<circle cx="426.7" cy="698.3" r="2.7" fill="#32cd32"/>
<circle cx="428.1" cy="702.4" r="2.7" fill="#32cd32"/>
<circle cx="398.1" cy="701.2" r="2.7" fill="#32cd32"/>
<circle cx="399.5" cy="704.5" r="2.7" fill="#32cd32"/>
<circle cx="384.7" cy="704.7" r="2.7" fill="#32cd32"/>
<circle cx="389.9" cy="705.3" r="2.7" fill="#32cd32"/>
<circle cx="385.3" cy="706.5" r="2.7" fill="#32cd32"/>
<circle cx="410.9" cy="705.6" r="2.7" fill="#32cd32"/>
<circle cx="412.7" cy="706.1" r="2.7" fill="#32cd32"/>
<circle cx="420.1" cy="709.4" r="2.7" fill="#32cd32"/>
<circle cx="423.8" cy="717.8" r="2.7" fill="#32cd32"/>
<circle cx="449.1" cy="716.0" r="2.7" fill="#32cd32"/>
<circle cx="387.4" cy="723.3" r="2.7" fill="#32cd32"/>
<circle cx="422.3" cy="726.9" r="2.7" fill="#32cd32"/>
<circle cx="438.7" cy="725.3" r="2.7" fill="#32cd32"/>
<circle cx="409.5" cy="733.2" r="2.7" fill="#32cd32"/>
<circle cx="432.6" cy="737.6" r="2.7" fill="#32cd32"/>
<circle cx="509.3" cy="486.3" r="2.7" fill="#32cd32"/>
<circle cx="494.3" cy="492.4" r="2.7" fill="#32cd32"/>
<circle cx="424.9" cy="504.9" r="2.7" fill="#32cd32"/>
<circle cx="433.7" cy="507.3" r="2.7" fill="#32cd32"/>
<circle cx="476.4" cy="516.2" r="2.7" fill="#32cd32"/>
<circle cx="440.1" cy="529.6" r="2.7" fill="#32cd32"/>
<circle cx="433.7" cy="531.7" r="2.7" fill="#32cd32"/>
<circle cx="442.2" cy="537.3" r="2.7" fill="#32cd32"/>
<circle cx="446.3" cy="541.8" r="2.7" fill="#32cd32"/>
<circle cx="426.1" cy="538.8" r="2.7" fill="#32cd32"/>
<circle cx="472.2" cy="536.6" r="2.7" fill="#32cd32"/>
<circle cx="479.2" cy="550.4" r="2.7" fill="#32cd32"/>
<circle cx="438.4" cy="551.3" r="2.7" fill="#32cd32"/>
<circle cx="429.1" cy="557.1" r="2.7" fill="#32cd32"/>
<circle cx="452.1" cy="558.8" r="2.7" fill="#32cd32"/>
<circle cx="424.7" cy="562.8" r="2.7" fill="#32cd32"/>
<circle cx="425.3" cy="569.3" r="2.7" fill="#32cd32"/>
<circle cx="496.4" cy="563.2" r="2.7" fill="#32cd32"/>
<circle cx="490.6" cy="567.4" r="2.7" fill="#32cd32"/>
<circle cx="484.3" cy="571.6" r="2.7" fill="#32cd32"/>
<circle cx="480.4" cy="576.9" r="2.7" fill="#32cd32"/>
<circle cx="526.7" cy="566.4" r="2.7" fill="#32cd32"/>
<circle cx="434.0" cy="566.9" r="2.7" fill="#32cd32"/>
<circle cx="436.3" cy="568.5" r="2.7" fill="#32cd32"/>
<circle cx="446.8" cy="567.1" r="2.7" fill="#32cd32"/>
<circle cx="462.6" cy="566.4" r="2.7" fill="#32cd32"/>
<circle cx="464.1" cy="569.0" r="2.7" fill="#32cd32"/>
<circle cx="466.1" cy="571.6" r="2.7" fill="#32cd32"/>
<circle cx="425.6" cy="575.5" r="2.7" fill="#32cd32"/>
<circle cx="432.3" cy="574.9" r="2.7" fill="#32cd32"/>
<circle cx="427.0" cy="580.0" r="2.7" fill="#32cd32"/>
<circle cx="427.5" cy="585.1" r="2.7" fill="#32cd32"/>
<circle cx="434.9" cy="584.4" r="2.7" fill="#32cd32"/>
<circle cx="463.1" cy="577.4" r="2.7" fill="#32cd32"/>
<circle cx="452.4" cy="581.2" r="2.7" fill="#32cd32"/>
<circle cx="458.5" cy="581.8" r="2.7" fill="#32cd32"/>
<circle cx="495.2" cy="579.5" r="2.7" fill="#32cd32"/>
<circle cx="476.1" cy="581.6" r="2.7" fill="#32cd32"/>
<circle cx="482.2" cy="583.0" r="2.7" fill="#32cd32"/>
<circle cx="476.4" cy="587.0" r="2.7" fill="#32cd32"/>
<circle cx="484.8" cy="586.5" r="2.7" fill="#32cd32"/>
<circle cx="488.3" cy="587.0" r="2.7" fill="#32cd32"/>
<circle cx="489.2" cy="593.8" r="2.7" fill="#32cd32"/>
<circle cx="490.6" cy="596.7" r="2.7" fill="#32cd32"/>
<circle cx="492.4" cy="599.6" r="2.7" fill="#32cd32"/>
<circle cx="481.3" cy="596.4" r="2.7" fill="#32cd32"/>
<circle cx="476.4" cy="603.9" r="2.7" fill="#32cd32"/>
<circle cx="465.6" cy="597.3" r="2.7" fill="#32cd32"/>
<circle cx="465.8" cy="601.4" r="2.7" fill="#32cd32"/>
<circle cx="466.1" cy="605.1" r="2.7" fill="#32cd32"/>
<circle cx="527.5" cy="599.4" r="2.7" fill="#32cd32"/>
<circle cx="502.9" cy="606.8" r="2.7" fill="#32cd32"/>
<circle cx="498.2" cy="608.4" r="2.7" fill="#32cd32"/>
<circle cx="498.5" cy="613.0" r="2.7" fill="#32cd32"/>
<circle cx="478.3" cy="614.4" r="2.7" fill="#32cd32"/>
<circle cx="480.7" cy="618.1" r="2.7" fill="#32cd32"/>
<circle cx="468.4" cy="619.1" r="2.7" fill="#32cd32"/>
<circle cx="494.7" cy="623.0" r="2.7" fill="#32cd32"/>
<circle cx="493.1" cy="625.3" r="2.7" fill="#32cd32"/>
<circle cx="503.8" cy="624.7" r="2.7" fill="#32cd32"/>
<circle cx="505.9" cy="626.5" r="2.7" fill="#32cd32"/>
<circle cx="507.5" cy="629.1" r="2.7" fill="#32cd32"/>
<circle cx="521.1" cy="620.4" r="2.7" fill="#32cd32"/>
<circle cx="522.2" cy="624.5" r="2.7" fill="#32cd32"/>
<circle cx="529.5" cy="623.2" r="2.7" fill="#32cd32"/>
<circle cx="467.0" cy="633.7" r="2.7" fill="#32cd32"/>
<circle cx="486.9" cy="632.6" r="2.7" fill="#32cd32"/>
<circle cx="486.6" cy="639.0" r="2.7" fill="#32cd32"/>
<circle cx="501.7" cy="636.7" r="2.7" fill="#32cd32"/>
<circle cx="495.6" cy="641.3" r="2.7" fill="#32cd32"/>
<circle cx="500.3" cy="641.6" r="2.7" fill="#32cd32"/>
<circle cx="507.6" cy="641.4" r="2.7" fill="#32cd32"/>
<circle cx="513.4" cy="641.4" r="2.7" fill="#32cd32"/>
<circle cx="525.1" cy="635.8" r="2.7" fill="#32cd32"/>
<circle cx="530.2" cy="634.9" r="2.7" fill="#32cd32"/>
<circle cx="533.3" cy="643.4" r="2.7" fill="#32cd32"/>
<circle cx="532.8" cy="649.6" r="2.7" fill="#32cd32"/>
<circle cx="529.5" cy="655.1" r="2.7" fill="#32cd32"/>
<circle cx="523.1" cy="653.0" r="2.7" fill="#32cd32"/>
<circle cx="518.7" cy="648.4" r="2.7" fill="#32cd32"/>
<circle cx="474.4" cy="645.4" r="2.7" fill="#32cd32"/>
<circle cx="476.4" cy="650.4" r="2.7" fill="#32cd32"/>
<circle cx="469.0" cy="650.2" r="2.7" fill="#32cd32"/>
<circle cx="480.4" cy="655.7" r="2.7" fill="#32cd32"/>
<circle cx="479.6" cy="657.4" r="2.7" fill="#32cd32"/>
<circle cx="503.6" cy="655.1" r="2.7" fill="#32cd32"/>
<circle cx="506.4" cy="659.5" r="2.7" fill="#32cd32"/>
<circle cx="471.9" cy="670.7" r="2.7" fill="#32cd32"/>
<circle cx="498.4" cy="672.4" r="2.7" fill="#32cd32"/>
<circle cx="482.4" cy="679.1" r="2.7" fill="#32cd32"/>
<circle cx="543.0" cy="673.7" r="2.7" fill="#32cd32"/>
<circle cx="552.0" cy="674.2" r="2.7" fill="#32cd32"/>
<circle cx="532.5" cy="684.0" r="2.7" fill="#32cd32"/>
<circle cx="520.1" cy="686.5" r="2.7" fill="#32cd32"/>
<circle cx="571.4" cy="687.9" r="2.7" fill="#32cd32"/>
<circle cx="475.8" cy="687.0" r="2.7" fill="#32cd32"/>
<circle cx="470.9" cy="690.5" r="2.7" fill="#32cd32"/>
<circle cx="474.5" cy="696.4" r="2.7" fill="#32cd32"/>
<circle cx="474.5" cy="698.5" r="2.7" fill="#32cd32"/>
<circle cx="477.9" cy="702.4" r="2.7" fill="#32cd32"/>
<circle cx="463.0" cy="702.0" r="2.7" fill="#32cd32"/>
<circle cx="509.6" cy="697.0" r="2.7" fill="#32cd32"/>
<circle cx="514.8" cy="696.4" r="2.7" fill="#32cd32"/>
<circle cx="466.3" cy="711.7" r="2.7" fill="#32cd32"/>
<circle cx="496.4" cy="719.7" r="2.7" fill="#32cd32"/>
<circle cx="551.4" cy="721.7" r="2.7" fill="#32cd32"/>
<circle cx="539.7" cy="727.4" r="2.7" fill="#32cd32"/>
<circle cx="542.3" cy="738.0" r="2.7" fill="#32cd32"/>
<circle cx="636.7" cy="552.2" r="2.7" fill="#32cd32"/>
<circle cx="554.0" cy="561.1" r="2.7" fill="#32cd32"/>
<circle cx="563.7" cy="594.3" r="2.7" fill="#32cd32"/>
<circle cx="614.3" cy="595.1" r="2.7" fill="#32cd32"/>
<circle cx="558.8" cy="610.0" r="2.7" fill="#32cd32"/>
<circle cx="547.2" cy="613.1" r="2.7" fill="#32cd32"/>
<circle cx="592.5" cy="630.7" r="2.7" fill="#32cd32"/>
<circle cx="601.4" cy="630.1" r="2.7" fill="#32cd32"/>
<circle cx="573.2" cy="643.4" r="2.7" fill="#32cd32"/>
<circle cx="545.9" cy="647.2" r="2.7" fill="#32cd32"/>
<circle cx="553.8" cy="649.5" r="2.7" fill="#32cd32"/>
<circle cx="306.1" cy="746.8" r="2.7" fill="#32cd32"/>
<circle cx="325.6" cy="751.9" r="2.7" fill="#32cd32"/>
<circle cx="368.3" cy="745.4" r="2.7" fill="#32cd32"/>
<circle cx="378.3" cy="748.4" r="2.7" fill="#32cd32"/>
<circle cx="387.6" cy="747.5" r="2.7" fill="#32cd32"/>
<circle cx="396.9" cy="757.7" r="2.7" fill="#32cd32"/>
<circle cx="414.2" cy="746.5" r="2.7" fill="#32cd32"/>
<circle cx="403.4" cy="631.7" r="2.7" fill="#32cd32"/>
<circle cx="408.6" cy="632.9" r="2.7" fill="#32cd32"/>
<circle cx="409.8" cy="636.4" r="2.7" fill="#32cd32"/>
<circle cx="403.4" cy="637.6" r="2.7" fill="#32cd32"/>
<circle cx="411.5" cy="641.1" r="2.7" fill="#32cd32"/>
<circle cx="406.9" cy="639.9" r="2.7" fill="#32cd32"/>
<circle cx="394.0" cy="637.6" r="2.7" fill="#32cd32"/>
<circle cx="389.9" cy="645.7" r="2.7" fill="#32cd32"/>
<circle cx="395.2" cy="642.8" r="2.7" fill="#32cd32"/>
<circle cx="390.5" cy="652.7" r="2.7" fill="#32cd32"/>
<circle cx="385.3" cy="651.6" r="2.7" fill="#32cd32"/>
<circle cx="396.4" cy="655.1" r="2.7" fill="#32cd32"/>
<circle cx="419.1" cy="618.9" r="2.7" fill="#32cd32"/>
<circle cx="425.0" cy="623.5" r="2.7" fill="#32cd32"/>
<circle cx="429.1" cy="620.0" r="2.7" fill="#32cd32"/>
<circle cx="440.7" cy="622.4" r="2.7" fill="#32cd32"/>
<circle cx="439.0" cy="628.8" r="2.7" fill="#32cd32"/>
<circle cx="443.6" cy="627.6" r="2.7" fill="#32cd32"/>
<circle cx="325.1" cy="599.0" r="2.7" fill="#32cd32"/>
<circle cx="328.6" cy="600.2" r="2.7" fill="#32cd32"/>
<circle cx="321.6" cy="596.7" r="2.7" fill="#32cd32"/>
<circle cx="325.1" cy="614.2" r="2.7" fill="#32cd32"/>
<circle cx="328.0" cy="616.5" r="2.7" fill="#32cd32"/>
<circle cx="331.5" cy="615.9" r="2.7" fill="#32cd32"/>
<circle cx="335.0" cy="616.5" r="2.7" fill="#32cd32"/>
<circle cx="339.1" cy="615.9" r="2.7" fill="#32cd32"/>
<circle cx="342.6" cy="616.5" r="2.7" fill="#32cd32"/>
<circle cx="326.9" cy="612.4" r="2.7" fill="#32cd32"/>
<circle cx="332.7" cy="613.0" r="2.7" fill="#32cd32"/>
<circle cx="322.2" cy="623.5" r="2.7" fill="#32cd32"/>
<circle cx="328.6" cy="622.4" r="2.7" fill="#32cd32"/>
<circle cx="326.3" cy="625.3" r="2.7" fill="#32cd32"/>
<circle cx="320.4" cy="629.4" r="2.7" fill="#32cd32"/>
<circle cx="318.7" cy="631.7" r="2.7" fill="#32cd32"/>
<circle cx="323.4" cy="634.1" r="2.7" fill="#32cd32"/>
<circle cx="336.2" cy="625.9" r="2.7" fill="#32cd32"/>
<circle cx="338.0" cy="625.3" r="2.7" fill="#32cd32"/>
<circle cx="363.1" cy="608.4" r="2.7" fill="#32cd32"/>
<circle cx="366.0" cy="606.0" r="2.7" fill="#32cd32"/>
<circle cx="368.9" cy="610.1" r="2.7" fill="#32cd32"/>
<circle cx="364.8" cy="612.4" r="2.7" fill="#32cd32"/>
<circle cx="361.9" cy="610.1" r="2.7" fill="#32cd32"/>
<circle cx="370.1" cy="613.6" r="2.7" fill="#32cd32"/>
<circle cx="372.4" cy="605.4" r="2.7" fill="#32cd32"/>
<circle cx="220.0" cy="592.4" r="2.7" fill="#dc143c"/>
<circle cx="101.8" cy="664.2" r="2.7" fill="#dc143c"/>
<circle cx="220.0" cy="681.2" r="2.7" fill="#dc143c"/>
<circle cx="299.1" cy="554.1" r="2.7" fill="#dc143c"/>
<circle cx="274.3" cy="666.2" r="2.7" fill="#dc143c"/>
<circle cx="221.2" cy="696.5" r="2.7" fill="#dc143c"/>
<circle cx="221.4" cy="702.6" r="2.7" fill="#dc143c"/>
<circle cx="418.2" cy="562.8" r="2.7" fill="#32cd32"/>
<circle cx="418.2" cy="567.2" r="2.7" fill="#32cd32"/>
<circle cx="301.8" cy="585.6" r="2.7" fill="#32cd32"/>
<circle cx="301.2" cy="653.9" r="2.7" fill="#32cd32"/>
<circle cx="321.0" cy="664.4" r="2.7" fill="#32cd32"/>
<circle cx="305.8" cy="664.4" r="2.7" fill="#32cd32"/>
<circle cx="314.6" cy="666.2" r="2.7" fill="#32cd32"/>
<circle cx="334.5" cy="666.2" r="2.7" fill="#32cd32"/>
<circle cx="373.0" cy="666.2" r="2.7" fill="#32cd32"/>
<circle cx="377.1" cy="665.6" r="2.7" fill="#32cd32"/>
<circle cx="300.6" cy="681.9" r="2.7" fill="#32cd32"/>
<circle cx="380.0" cy="677.8" r="2.7" fill="#32cd32"/>
<circle cx="380.0" cy="687.2" r="2.7" fill="#32cd32"/>
<circle cx="301.2" cy="699.8" r="2.7" fill="#32cd32"/>
<circle cx="323.4" cy="745.0" r="2.7" fill="#32cd32"/>
<circle cx="383.5" cy="664.4" r="2.7" fill="#32cd32"/>
<circle cx="431.4" cy="663.8" r="2.7" fill="#32cd32"/>
<circle cx="460.0" cy="658.6" r="2.7" fill="#32cd32"/>
<circle cx="459.4" cy="672.0" r="2.7" fill="#32cd32"/>
<circle cx="458.8" cy="704.9" r="2.7" fill="#32cd32"/>
<circle cx="422.1" cy="569.9" r="2.7" fill="#32cd32"/>
<circle cx="519.0" cy="663.8" r="2.7" fill="#32cd32"/>
<line x1="266.73" y1="461.10" x2="266.73" y2="774.15" stroke="#3a3a3a" stroke-width="1.15" stroke-dasharray="3.7 6.7"/>
<ellipse cx="353.60" cy="628.45" rx="213.30" ry="114.35" fill="none" stroke="#008000" stroke-width="2"/>
<line x1="300.90" y1="456.30" x2="297.80" y2="778.65" stroke="#000" stroke-width="2" stroke-dasharray="3.8 2.86"/>
<text class="s" font-size="13.4" text-anchor="start" transform="translate(292.24,764.20) rotate(-89.449) scale(1,1.100)">WTP=4733.73</text>
<path d="M46.1 468.25H52.2V767.77H46.1" fill="none" stroke="#1a1a1a" stroke-width="1.2"/>
<line x1="46.1" y1="493.21" x2="52.2" y2="493.21" stroke="#1a1a1a" stroke-width="1.2"/>
<line x1="46.1" y1="518.17" x2="52.2" y2="518.17" stroke="#1a1a1a" stroke-width="1.2"/>
<line x1="46.1" y1="543.13" x2="52.2" y2="543.13" stroke="#1a1a1a" stroke-width="1.2"/>
<line x1="46.1" y1="568.09" x2="52.2" y2="568.09" stroke="#1a1a1a" stroke-width="1.2"/>
<line x1="46.1" y1="593.05" x2="52.2" y2="593.05" stroke="#1a1a1a" stroke-width="1.2"/>
<line x1="46.1" y1="618.01" x2="52.2" y2="618.01" stroke="#1a1a1a" stroke-width="1.2"/>
<line x1="46.1" y1="642.97" x2="52.2" y2="642.97" stroke="#1a1a1a" stroke-width="1.2"/>
<line x1="46.1" y1="667.93" x2="52.2" y2="667.93" stroke="#1a1a1a" stroke-width="1.2"/>
<line x1="46.1" y1="692.89" x2="52.2" y2="692.89" stroke="#1a1a1a" stroke-width="1.2"/>
<line x1="46.1" y1="717.85" x2="52.2" y2="717.85" stroke="#1a1a1a" stroke-width="1.2"/>
<line x1="46.1" y1="742.81" x2="52.2" y2="742.81" stroke="#1a1a1a" stroke-width="1.2"/>
<text font-size="13" text-anchor="end" transform="translate(43.60,472.95) scale(1,1.040)">645</text>
<text font-size="13" text-anchor="end" transform="translate(43.60,497.91) scale(1,1.040)">640</text>
<text font-size="13" text-anchor="end" transform="translate(43.60,522.87) scale(1,1.040)">635</text>
<text font-size="13" text-anchor="end" transform="translate(43.60,547.83) scale(1,1.040)">630</text>
<text font-size="13" text-anchor="end" transform="translate(43.60,572.79) scale(1,1.040)">625</text>
<text font-size="13" text-anchor="end" transform="translate(43.60,597.75) scale(1,1.040)">620</text>
<text font-size="13" text-anchor="end" transform="translate(43.60,622.71) scale(1,1.040)">615</text>
<text font-size="13" text-anchor="end" transform="translate(43.60,647.67) scale(1,1.040)">610</text>
<text font-size="13" text-anchor="end" transform="translate(43.60,672.63) scale(1,1.040)">605</text>
<text font-size="13" text-anchor="end" transform="translate(43.60,697.59) scale(1,1.040)">600</text>
<text font-size="13" text-anchor="end" transform="translate(43.60,722.55) scale(1,1.040)">595</text>
<text font-size="13" text-anchor="end" transform="translate(43.60,747.51) scale(1,1.040)">590</text>
<text font-size="13" text-anchor="end" transform="translate(43.60,772.47) scale(1,1.040)">585</text>
<path d="M63.67 784.15V778.65H672.86V784.15" fill="none" stroke="#1a1a1a" stroke-width="1.2"/>
<text font-size="13" text-anchor="middle" transform="translate(64.07,796.60) scale(1,1.040)">−0.80</text>
<line x1="114.43" y1="778.65" x2="114.43" y2="784.15" stroke="#1a1a1a" stroke-width="1.2"/>
<text font-size="13" text-anchor="middle" transform="translate(114.83,796.60) scale(1,1.040)">−0.60</text>
<line x1="165.20" y1="778.65" x2="165.20" y2="784.15" stroke="#1a1a1a" stroke-width="1.2"/>
<text font-size="13" text-anchor="middle" transform="translate(165.60,796.60) scale(1,1.040)">−0.40</text>
<line x1="215.96" y1="778.65" x2="215.96" y2="784.15" stroke="#1a1a1a" stroke-width="1.2"/>
<text font-size="13" text-anchor="middle" transform="translate(216.36,796.60) scale(1,1.040)">−0.20</text>
<line x1="266.73" y1="778.65" x2="266.73" y2="784.15" stroke="#1a1a1a" stroke-width="1.2"/>
<text font-size="13" text-anchor="middle" transform="translate(267.03,796.60) scale(1,1.040)">0.00</text>
<line x1="317.50" y1="778.65" x2="317.50" y2="784.15" stroke="#1a1a1a" stroke-width="1.2"/>
<text font-size="13" text-anchor="middle" transform="translate(317.80,796.60) scale(1,1.040)">0.20</text>
<line x1="368.26" y1="778.65" x2="368.26" y2="784.15" stroke="#1a1a1a" stroke-width="1.2"/>
<text font-size="13" text-anchor="middle" transform="translate(368.56,796.60) scale(1,1.040)">0.40</text>
<line x1="419.03" y1="778.65" x2="419.03" y2="784.15" stroke="#1a1a1a" stroke-width="1.2"/>
<text font-size="13" text-anchor="middle" transform="translate(419.33,796.60) scale(1,1.040)">0.60</text>
<line x1="469.79" y1="778.65" x2="469.79" y2="784.15" stroke="#1a1a1a" stroke-width="1.2"/>
<text font-size="13" text-anchor="middle" transform="translate(470.09,796.60) scale(1,1.040)">0.80</text>
<line x1="520.56" y1="778.65" x2="520.56" y2="784.15" stroke="#1a1a1a" stroke-width="1.2"/>
<text font-size="13" text-anchor="middle" transform="translate(520.86,796.60) scale(1,1.040)">1.00</text>
<line x1="571.33" y1="778.65" x2="571.33" y2="784.15" stroke="#1a1a1a" stroke-width="1.2"/>
<text font-size="13" text-anchor="middle" transform="translate(571.63,796.60) scale(1,1.040)">1.20</text>
<line x1="622.09" y1="778.65" x2="622.09" y2="784.15" stroke="#1a1a1a" stroke-width="1.2"/>
<text font-size="13" text-anchor="middle" transform="translate(622.39,796.60) scale(1,1.040)">1.40</text>
<text font-size="13" text-anchor="middle" transform="translate(673.16,796.60) scale(1,1.040)">1.60</text>
<text class="b" font-size="15.2" text-anchor="middle" transform="translate(353.80,441.00) scale(1,1.040)">ICE Scatterplot, Desmopressin vs. No treatment</text>
<text class="b" font-size="13.4" text-anchor="middle" transform="translate(368.40,811.50) scale(1,1.040)">Incremental QALYs</text>
<text class="b" font-size="13.45" text-anchor="middle" transform="translate(10.00,620.70) rotate(-90.000) scale(1,1.040)">Incremental Cost (USD)</text>
</svg></body></html>
